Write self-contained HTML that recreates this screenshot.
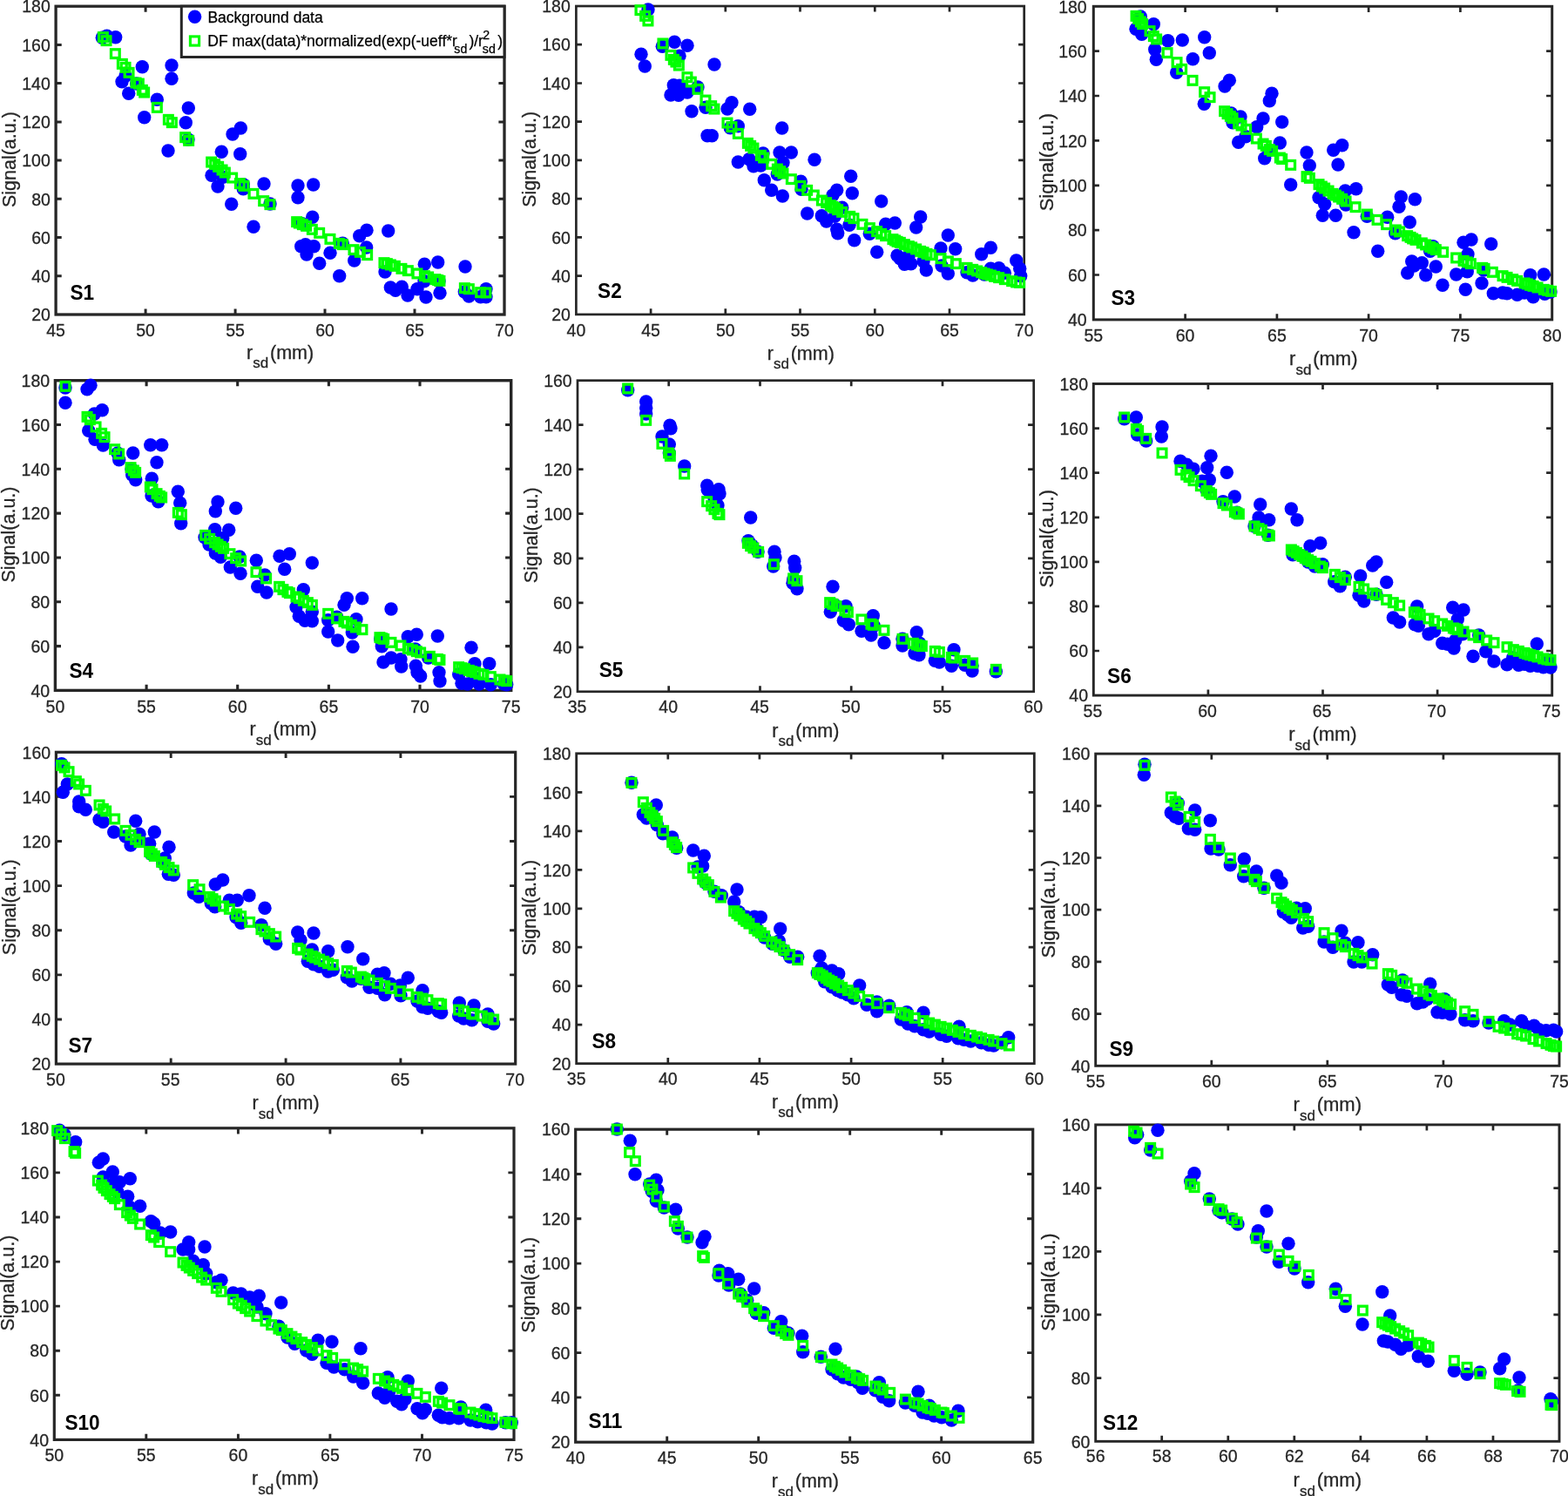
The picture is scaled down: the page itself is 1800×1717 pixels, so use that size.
<!DOCTYPE html>
<html lang="en">
<head>
<meta charset="utf-8">
<title>Signal vs source-detector distance, subjects S1-S12</title>
<style>
html,body{margin:0;padding:0;background:#fff;}
body{width:1800px;height:1717px;overflow:hidden;}
svg{display:block;font-family:"Liberation Sans",Arial,Helvetica,sans-serif;}
.b{fill:#0000ff;}
.g{fill:none;stroke:#00ff00;stroke-width:3.3;}
.ax{fill:none;stroke:#262626;}
.tk{fill:none;stroke:#262626;}
.tl{font-size:19.5px;fill:#262626;stroke:#262626;stroke-width:0.3px;}
.lb{font-size:21.5px;fill:#262626;stroke:#262626;stroke-width:0.3px;}
.sub{font-size:17px;}
.sl{font-size:22.6px;font-weight:bold;fill:#000;}
.lg{font-size:17.5px;fill:#000;stroke:#000;stroke-width:0.25px;}
.lsub{font-size:14.2px;}
</style>
</head>
<body>
<svg xmlns="http://www.w3.org/2000/svg" width="1800" height="1717" viewBox="0 0 1800 1717">
<rect width="1800" height="1717" fill="#fff"/>
<g class="p" id="p1">
<rect class="ax" x="64.1" y="7.2" width="514.9" height="353.8" stroke-width="3.3"/>
<path class="tk" d="M167.1 361v-6.6M167.1 7.2v6.6M270.1 361v-6.6M270.1 7.2v6.6M373 361v-6.6M373 7.2v6.6M476 361v-6.6M476 7.2v6.6M64.1 316.8h6.6M579 316.8h-6.6M64.1 272.6h6.6M579 272.6h-6.6M64.1 228.3h6.6M579 228.3h-6.6M64.1 184.1h6.6M579 184.1h-6.6M64.1 139.9h6.6M579 139.9h-6.6M64.1 95.6h6.6M579 95.6h-6.6M64.1 51.4h6.6M579 51.4h-6.6" stroke-width="3"/>
<g class="b"><circle cx="117.3" cy="43.3" r="7.7"/><circle cx="122.7" cy="41.3" r="7.7"/><circle cx="132.7" cy="42.7" r="7.7"/><circle cx="140" cy="93.7" r="7.7"/><circle cx="144" cy="87.3" r="7.7"/><circle cx="147.7" cy="107.3" r="7.7"/><circle cx="163.3" cy="76.7" r="7.7"/><circle cx="156.7" cy="96" r="7.7"/><circle cx="165.7" cy="134.7" r="7.7"/><circle cx="180.3" cy="114.3" r="7.7"/><circle cx="197" cy="75" r="7.7"/><circle cx="197" cy="90.3" r="7.7"/><circle cx="193" cy="173" r="7.7"/><circle cx="213.3" cy="140.7" r="7.7"/><circle cx="216.3" cy="124" r="7.7"/><circle cx="216" cy="160" r="7.7"/><circle cx="243" cy="201.3" r="7.7"/><circle cx="250" cy="214" r="7.7"/><circle cx="254.3" cy="174.3" r="7.7"/><circle cx="256" cy="203.3" r="7.7"/><circle cx="267" cy="154" r="7.7"/><circle cx="276.3" cy="147" r="7.7"/><circle cx="275.7" cy="176.7" r="7.7"/><circle cx="265.7" cy="234.3" r="7.7"/><circle cx="279.3" cy="216.7" r="7.7"/><circle cx="279.3" cy="211.7" r="7.7"/><circle cx="291" cy="260.3" r="7.7"/><circle cx="303" cy="211" r="7.7"/><circle cx="310" cy="234" r="7.7"/><circle cx="342" cy="213" r="7.7"/><circle cx="342" cy="226.7" r="7.7"/><circle cx="359.7" cy="212" r="7.7"/><circle cx="358.7" cy="249.3" r="7.7"/><circle cx="346.7" cy="256.7" r="7.7"/><circle cx="345.7" cy="282.7" r="7.7"/><circle cx="350.7" cy="280.7" r="7.7"/><circle cx="360.3" cy="282.7" r="7.7"/><circle cx="352" cy="292" r="7.7"/><circle cx="366.7" cy="302.3" r="7.7"/><circle cx="379" cy="290.3" r="7.7"/><circle cx="389.7" cy="316.7" r="7.7"/><circle cx="393.3" cy="279.3" r="7.7"/><circle cx="406.7" cy="299" r="7.7"/><circle cx="412.7" cy="270.7" r="7.7"/><circle cx="421" cy="264.3" r="7.7"/><circle cx="420.7" cy="284" r="7.7"/><circle cx="445.7" cy="265" r="7.7"/><circle cx="442" cy="312" r="7.7"/><circle cx="448.3" cy="330" r="7.7"/><circle cx="454" cy="333.3" r="7.7"/><circle cx="461.3" cy="329.3" r="7.7"/><circle cx="468" cy="339" r="7.7"/><circle cx="479" cy="331.7" r="7.7"/><circle cx="487.3" cy="303.3" r="7.7"/><circle cx="487" cy="322.7" r="7.7"/><circle cx="489" cy="341" r="7.7"/><circle cx="502.7" cy="301" r="7.7"/><circle cx="505" cy="336.3" r="7.7"/><circle cx="504" cy="322.7" r="7.7"/><circle cx="534" cy="306" r="7.7"/><circle cx="533.3" cy="335" r="7.7"/><circle cx="538.3" cy="340" r="7.7"/><circle cx="551.7" cy="340.7" r="7.7"/><circle cx="558" cy="331.7" r="7.7"/><circle cx="558" cy="340.7" r="7.7"/></g>
<g class="g"><rect x="113.5" y="37.8" width="9.7" height="9.7"/><rect x="117.2" y="41.8" width="9.7" height="9.7"/><rect x="127.5" y="56.8" width="9.7" height="9.7"/><rect x="135.5" y="68.5" width="9.7" height="9.7"/><rect x="139.2" y="72.5" width="9.7" height="9.7"/><rect x="143.2" y="78.5" width="9.7" height="9.7"/><rect x="151.2" y="90.2" width="9.7" height="9.7"/><rect x="154.5" y="91.2" width="9.7" height="9.7"/><rect x="158.5" y="98.5" width="9.7" height="9.7"/><rect x="160.8" y="101.2" width="9.7" height="9.7"/><rect x="175.5" y="118.5" width="9.7" height="9.7"/><rect x="188.5" y="132.5" width="9.7" height="9.7"/><rect x="192.5" y="135.8" width="9.7" height="9.7"/><rect x="207.8" y="152.8" width="9.7" height="9.7"/><rect x="211.8" y="156.5" width="9.7" height="9.7"/><rect x="237.8" y="181.2" width="9.7" height="9.7"/><rect x="241.8" y="183.8" width="9.7" height="9.7"/><rect x="245.8" y="186.5" width="9.7" height="9.7"/><rect x="250.2" y="190.2" width="9.7" height="9.7"/><rect x="253.5" y="193.2" width="9.7" height="9.7"/><rect x="261.8" y="199.2" width="9.7" height="9.7"/><rect x="270.5" y="205.8" width="9.7" height="9.7"/><rect x="275.1" y="208.5" width="9.7" height="9.7"/><rect x="286.1" y="217.5" width="9.7" height="9.7"/><rect x="297.8" y="225.8" width="9.7" height="9.7"/><rect x="305.1" y="229.8" width="9.7" height="9.7"/><rect x="335.8" y="249.8" width="9.7" height="9.7"/><rect x="338.5" y="251.2" width="9.7" height="9.7"/><rect x="342.5" y="252.8" width="9.7" height="9.7"/><rect x="346.8" y="254.5" width="9.7" height="9.7"/><rect x="353.5" y="258.5" width="9.7" height="9.7"/><rect x="361.8" y="262.5" width="9.7" height="9.7"/><rect x="374.1" y="269.5" width="9.7" height="9.7"/><rect x="384.5" y="274.5" width="9.7" height="9.7"/><rect x="388.5" y="275.8" width="9.7" height="9.7"/><rect x="401.1" y="281.8" width="9.7" height="9.7"/><rect x="408.5" y="284.5" width="9.7" height="9.7"/><rect x="416.8" y="287.8" width="9.7" height="9.7"/><rect x="436.1" y="296.8" width="9.7" height="9.7"/><rect x="439.5" y="297.8" width="9.7" height="9.7"/><rect x="443.5" y="299.1" width="9.7" height="9.7"/><rect x="448.5" y="300.5" width="9.7" height="9.7"/><rect x="456.1" y="303.5" width="9.7" height="9.7"/><rect x="463.5" y="305.8" width="9.7" height="9.7"/><rect x="474.1" y="309.1" width="9.7" height="9.7"/><rect x="482.5" y="311.8" width="9.7" height="9.7"/><rect x="486.8" y="313.1" width="9.7" height="9.7"/><rect x="495.1" y="315.8" width="9.7" height="9.7"/><rect x="500.1" y="317.5" width="9.7" height="9.7"/><rect x="528.5" y="325.8" width="9.7" height="9.7"/><rect x="533.5" y="326.8" width="9.7" height="9.7"/><rect x="546.8" y="330.8" width="9.7" height="9.7"/><rect x="553.1" y="331.1" width="9.7" height="9.7"/><rect x="497.8" y="316.7" width="9.7" height="9.7"/></g>
<g class="tl"><text transform="translate(64.1 386.4) scale(1 1.04)" text-anchor="middle">45</text><text transform="translate(167.1 386.4) scale(1 1.04)" text-anchor="middle">50</text><text transform="translate(270.1 386.4) scale(1 1.04)" text-anchor="middle">55</text><text transform="translate(373 386.4) scale(1 1.04)" text-anchor="middle">60</text><text transform="translate(476 386.4) scale(1 1.04)" text-anchor="middle">65</text><text transform="translate(579 386.4) scale(1 1.04)" text-anchor="middle">70</text><text transform="translate(57.8 368.2) scale(1 1.04)" text-anchor="end">20</text><text transform="translate(57.8 324) scale(1 1.04)" text-anchor="end">40</text><text transform="translate(57.8 279.8) scale(1 1.04)" text-anchor="end">60</text><text transform="translate(57.8 235.5) scale(1 1.04)" text-anchor="end">80</text><text transform="translate(57.8 191.3) scale(1 1.04)" text-anchor="end">100</text><text transform="translate(57.8 147.1) scale(1 1.04)" text-anchor="end">120</text><text transform="translate(57.8 102.8) scale(1 1.04)" text-anchor="end">140</text><text transform="translate(57.8 58.6) scale(1 1.04)" text-anchor="end">160</text><text transform="translate(57.8 14.4) scale(1 1.04)" text-anchor="end">180</text></g>
<text class="lb" x="321.6" y="411.5" text-anchor="middle">r<tspan class="sub" dy="10.6">sd</tspan><tspan dx="1.8" dy="-10.6">(mm)</tspan></text>
<text class="lb" transform="translate(17.7 183.1) rotate(-90)" text-anchor="middle">Signal(a.u.)</text>
<text class="sl" transform="translate(80.4 344) scale(1 1.045)">S1</text>
</g>
<g class="p" id="p2">
<rect class="ax" x="661.4" y="7" width="514.3" height="353.9" stroke-width="2.7"/>
<path class="tk" d="M747.1 360.9v-6.6M747.1 7v6.6M832.8 360.9v-6.6M832.8 7v6.6M918.5 360.9v-6.6M918.5 7v6.6M1004.3 360.9v-6.6M1004.3 7v6.6M1090 360.9v-6.6M1090 7v6.6M661.4 316.7h6.6M1175.7 316.7h-6.6M661.4 272.4h6.6M1175.7 272.4h-6.6M661.4 228.2h6.6M1175.7 228.2h-6.6M661.4 183.9h6.6M1175.7 183.9h-6.6M661.4 139.7h6.6M1175.7 139.7h-6.6M661.4 95.5h6.6M1175.7 95.5h-6.6M661.4 51.2h6.6M1175.7 51.2h-6.6" stroke-width="2.7"/>
<g class="b"><circle cx="744" cy="11" r="7.7"/><circle cx="736" cy="62.3" r="7.7"/><circle cx="740.3" cy="76" r="7.7"/><circle cx="760.3" cy="53.3" r="7.7"/><circle cx="774.3" cy="48.3" r="7.7"/><circle cx="789" cy="52.3" r="7.7"/><circle cx="780" cy="64.3" r="7.7"/><circle cx="773.3" cy="97.7" r="7.7"/><circle cx="780" cy="98.3" r="7.7"/><circle cx="770" cy="109" r="7.7"/><circle cx="779" cy="109.3" r="7.7"/><circle cx="789" cy="106" r="7.7"/><circle cx="794" cy="127.7" r="7.7"/><circle cx="801" cy="100" r="7.7"/><circle cx="820" cy="74" r="7.7"/><circle cx="810" cy="123.3" r="7.7"/><circle cx="812" cy="155.7" r="7.7"/><circle cx="817.3" cy="155.7" r="7.7"/><circle cx="835" cy="125" r="7.7"/><circle cx="840" cy="117.7" r="7.7"/><circle cx="860.7" cy="125.3" r="7.7"/><circle cx="847.3" cy="144.7" r="7.7"/><circle cx="838.3" cy="146.7" r="7.7"/><circle cx="847.3" cy="186" r="7.7"/><circle cx="860" cy="182.7" r="7.7"/><circle cx="865" cy="190.7" r="7.7"/><circle cx="873.3" cy="190" r="7.7"/><circle cx="876" cy="176" r="7.7"/><circle cx="877.3" cy="206.7" r="7.7"/><circle cx="885.7" cy="218.3" r="7.7"/><circle cx="895" cy="175" r="7.7"/><circle cx="897.7" cy="147" r="7.7"/><circle cx="908.3" cy="175" r="7.7"/><circle cx="899" cy="186.7" r="7.7"/><circle cx="892.3" cy="200" r="7.7"/><circle cx="898.3" cy="225" r="7.7"/><circle cx="919.3" cy="208.3" r="7.7"/><circle cx="920" cy="217.3" r="7.7"/><circle cx="935" cy="183.3" r="7.7"/><circle cx="926.7" cy="245" r="7.7"/><circle cx="943.3" cy="247.7" r="7.7"/><circle cx="948.7" cy="254" r="7.7"/><circle cx="956" cy="224" r="7.7"/><circle cx="960.7" cy="218.3" r="7.7"/><circle cx="958.3" cy="248.3" r="7.7"/><circle cx="966.7" cy="238.3" r="7.7"/><circle cx="960.7" cy="263.3" r="7.7"/><circle cx="961.7" cy="267.7" r="7.7"/><circle cx="976.7" cy="202.3" r="7.7"/><circle cx="978.3" cy="221.7" r="7.7"/><circle cx="975" cy="258.3" r="7.7"/><circle cx="980.7" cy="275.7" r="7.7"/><circle cx="998.3" cy="268.3" r="7.7"/><circle cx="1006.7" cy="289.3" r="7.7"/><circle cx="1011.7" cy="231" r="7.7"/><circle cx="1016.7" cy="257.3" r="7.7"/><circle cx="1027.3" cy="256" r="7.7"/><circle cx="1030" cy="293.3" r="7.7"/><circle cx="1033.3" cy="296.7" r="7.7"/><circle cx="1038.3" cy="303.3" r="7.7"/><circle cx="1045.7" cy="302.7" r="7.7"/><circle cx="1043.3" cy="293.3" r="7.7"/><circle cx="1051.7" cy="261" r="7.7"/><circle cx="1056.7" cy="249" r="7.7"/><circle cx="1060" cy="300" r="7.7"/><circle cx="1063.3" cy="310" r="7.7"/><circle cx="1080" cy="285" r="7.7"/><circle cx="1081" cy="305" r="7.7"/><circle cx="1088.3" cy="270" r="7.7"/><circle cx="1088.3" cy="314" r="7.7"/><circle cx="1096.7" cy="285.7" r="7.7"/><circle cx="1110" cy="312.7" r="7.7"/><circle cx="1116.7" cy="316" r="7.7"/><circle cx="1126.7" cy="291.7" r="7.7"/><circle cx="1137.3" cy="284.3" r="7.7"/><circle cx="1130" cy="315" r="7.7"/><circle cx="1137.3" cy="308.3" r="7.7"/><circle cx="1146.7" cy="307.7" r="7.7"/><circle cx="1153.3" cy="313.3" r="7.7"/><circle cx="1166.7" cy="299" r="7.7"/><circle cx="1170.7" cy="308.3" r="7.7"/><circle cx="1171.7" cy="316.7" r="7.7"/></g>
<g class="g"><rect x="730.1" y="6.8" width="9.7" height="9.7"/><rect x="735.8" y="13.5" width="9.7" height="9.7"/><rect x="739.1" y="19.1" width="9.7" height="9.7"/><rect x="756.1" y="45.1" width="9.7" height="9.7"/><rect x="765.1" y="58.5" width="9.7" height="9.7"/><rect x="768.5" y="63.5" width="9.7" height="9.7"/><rect x="771.1" y="66.2" width="9.7" height="9.7"/><rect x="774.5" y="70.2" width="9.7" height="9.7"/><rect x="784.1" y="83.8" width="9.7" height="9.7"/><rect x="788.5" y="89.2" width="9.7" height="9.7"/><rect x="796.1" y="97.5" width="9.7" height="9.7"/><rect x="805.1" y="110.2" width="9.7" height="9.7"/><rect x="811.8" y="116.8" width="9.7" height="9.7"/><rect x="815.1" y="120.2" width="9.7" height="9.7"/><rect x="830.1" y="136.2" width="9.7" height="9.7"/><rect x="835.1" y="140.8" width="9.7" height="9.7"/><rect x="842.5" y="148.5" width="9.7" height="9.7"/><rect x="853.5" y="159.5" width="9.7" height="9.7"/><rect x="856.8" y="162.5" width="9.7" height="9.7"/><rect x="860.1" y="165.2" width="9.7" height="9.7"/><rect x="868.5" y="173.5" width="9.7" height="9.7"/><rect x="871.8" y="176.2" width="9.7" height="9.7"/><rect x="880.8" y="183.5" width="9.7" height="9.7"/><rect x="887.5" y="189.2" width="9.7" height="9.7"/><rect x="890.8" y="191.8" width="9.7" height="9.7"/><rect x="894.1" y="194.2" width="9.7" height="9.7"/><rect x="903.5" y="200.8" width="9.7" height="9.7"/><rect x="914.1" y="208.5" width="9.7" height="9.7"/><rect x="921.8" y="213.5" width="9.7" height="9.7"/><rect x="929.5" y="219.2" width="9.7" height="9.7"/><rect x="938.5" y="225.2" width="9.7" height="9.7"/><rect x="943.8" y="227.8" width="9.7" height="9.7"/><rect x="948.5" y="230.8" width="9.7" height="9.7"/><rect x="953.5" y="233.8" width="9.7" height="9.7"/><rect x="956.8" y="235.8" width="9.7" height="9.7"/><rect x="961.8" y="238.5" width="9.7" height="9.7"/><rect x="970.8" y="243.5" width="9.7" height="9.7"/><rect x="975.1" y="245.8" width="9.7" height="9.7"/><rect x="985.1" y="252.5" width="9.7" height="9.7"/><rect x="993.5" y="256.8" width="9.7" height="9.7"/><rect x="1001.8" y="260.8" width="9.7" height="9.7"/><rect x="1006.8" y="263.5" width="9.7" height="9.7"/><rect x="1011.8" y="265.8" width="9.7" height="9.7"/><rect x="1020.1" y="269.8" width="9.7" height="9.7"/><rect x="1022.8" y="271.1" width="9.7" height="9.7"/><rect x="1025.2" y="272.5" width="9.7" height="9.7"/><rect x="1028.5" y="273.5" width="9.7" height="9.7"/><rect x="1033.5" y="275.8" width="9.7" height="9.7"/><rect x="1038.5" y="277.8" width="9.7" height="9.7"/><rect x="1041.8" y="279.1" width="9.7" height="9.7"/><rect x="1046.8" y="281.1" width="9.7" height="9.7"/><rect x="1051.8" y="283.5" width="9.7" height="9.7"/><rect x="1055.2" y="284.8" width="9.7" height="9.7"/><rect x="1059.2" y="286.5" width="9.7" height="9.7"/><rect x="1063.5" y="287.8" width="9.7" height="9.7"/><rect x="1075.2" y="291.8" width="9.7" height="9.7"/><rect x="1083.5" y="295.1" width="9.7" height="9.7"/><rect x="1092.5" y="297.8" width="9.7" height="9.7"/><rect x="1105.2" y="302.5" width="9.7" height="9.7"/><rect x="1111.8" y="304.5" width="9.7" height="9.7"/><rect x="1116.8" y="306.1" width="9.7" height="9.7"/><rect x="1121.8" y="307.8" width="9.7" height="9.7"/><rect x="1125.2" y="309.1" width="9.7" height="9.7"/><rect x="1128.5" y="310.1" width="9.7" height="9.7"/><rect x="1132.5" y="311.1" width="9.7" height="9.7"/><rect x="1136.8" y="312.5" width="9.7" height="9.7"/><rect x="1141.8" y="313.8" width="9.7" height="9.7"/><rect x="1148.5" y="315.8" width="9.7" height="9.7"/><rect x="1156.8" y="317.8" width="9.7" height="9.7"/><rect x="1161.8" y="319.1" width="9.7" height="9.7"/><rect x="1165.8" y="319.5" width="9.7" height="9.7"/><rect x="951.1" y="232.4" width="9.7" height="9.7"/></g>
<g class="tl"><text transform="translate(661.4 385.5) scale(1 1.04)" text-anchor="middle">40</text><text transform="translate(747.1 385.5) scale(1 1.04)" text-anchor="middle">45</text><text transform="translate(832.8 385.5) scale(1 1.04)" text-anchor="middle">50</text><text transform="translate(918.5 385.5) scale(1 1.04)" text-anchor="middle">55</text><text transform="translate(1004.3 385.5) scale(1 1.04)" text-anchor="middle">60</text><text transform="translate(1090 385.5) scale(1 1.04)" text-anchor="middle">65</text><text transform="translate(1175.7 385.5) scale(1 1.04)" text-anchor="middle">70</text><text transform="translate(654.8 368.1) scale(1 1.04)" text-anchor="end">20</text><text transform="translate(654.8 323.9) scale(1 1.04)" text-anchor="end">40</text><text transform="translate(654.8 279.6) scale(1 1.04)" text-anchor="end">60</text><text transform="translate(654.8 235.4) scale(1 1.04)" text-anchor="end">80</text><text transform="translate(654.8 191.1) scale(1 1.04)" text-anchor="end">100</text><text transform="translate(654.8 146.9) scale(1 1.04)" text-anchor="end">120</text><text transform="translate(654.8 102.7) scale(1 1.04)" text-anchor="end">140</text><text transform="translate(654.8 58.4) scale(1 1.04)" text-anchor="end">160</text><text transform="translate(654.8 14.2) scale(1 1.04)" text-anchor="end">180</text></g>
<text class="lb" x="919.3" y="412.7" text-anchor="middle">r<tspan class="sub" dy="10.6">sd</tspan><tspan dx="1.8" dy="-10.6">(mm)</tspan></text>
<text class="lb" transform="translate(615.3 182.9) rotate(-90)" text-anchor="middle">Signal(a.u.)</text>
<text class="sl" transform="translate(686.1 342.4) scale(1 1.045)">S2</text>
</g>
<g class="p" id="p3">
<rect class="ax" x="1255.3" y="7.3" width="526.4" height="359.6" stroke-width="3.0"/>
<path class="tk" d="M1360.6 366.9v-6.6M1360.6 7.3v6.6M1465.9 366.9v-6.6M1465.9 7.3v6.6M1571.1 366.9v-6.6M1571.1 7.3v6.6M1676.4 366.9v-6.6M1676.4 7.3v6.6M1255.3 315.5h6.6M1781.7 315.5h-6.6M1255.3 264.2h6.6M1781.7 264.2h-6.6M1255.3 212.8h6.6M1781.7 212.8h-6.6M1255.3 161.4h6.6M1781.7 161.4h-6.6M1255.3 110h6.6M1781.7 110h-6.6M1255.3 58.7h6.6M1781.7 58.7h-6.6" stroke-width="2.7"/>
<g class="b"><circle cx="1309.3" cy="19" r="7.7"/><circle cx="1304" cy="33.3" r="7.7"/><circle cx="1310.7" cy="39.3" r="7.7"/><circle cx="1324.3" cy="27.7" r="7.7"/><circle cx="1325.7" cy="56.7" r="7.7"/><circle cx="1327.3" cy="68.3" r="7.7"/><circle cx="1340.7" cy="46.7" r="7.7"/><circle cx="1357.3" cy="46" r="7.7"/><circle cx="1350.7" cy="83.3" r="7.7"/><circle cx="1369.3" cy="67.7" r="7.7"/><circle cx="1382.7" cy="42.7" r="7.7"/><circle cx="1388.3" cy="60.7" r="7.7"/><circle cx="1406" cy="99" r="7.7"/><circle cx="1411.3" cy="92.3" r="7.7"/><circle cx="1382.3" cy="119.3" r="7.7"/><circle cx="1413.3" cy="130" r="7.7"/><circle cx="1415" cy="140.7" r="7.7"/><circle cx="1424" cy="134" r="7.7"/><circle cx="1421.7" cy="163.3" r="7.7"/><circle cx="1430" cy="156.7" r="7.7"/><circle cx="1442.7" cy="145.7" r="7.7"/><circle cx="1450" cy="136" r="7.7"/><circle cx="1451.7" cy="181.7" r="7.7"/><circle cx="1457.3" cy="115.7" r="7.7"/><circle cx="1460" cy="107.3" r="7.7"/><circle cx="1456.7" cy="172.7" r="7.7"/><circle cx="1469.3" cy="164" r="7.7"/><circle cx="1471.7" cy="140" r="7.7"/><circle cx="1481.7" cy="212" r="7.7"/><circle cx="1500" cy="175" r="7.7"/><circle cx="1503.3" cy="190" r="7.7"/><circle cx="1514" cy="226.7" r="7.7"/><circle cx="1518.3" cy="247.3" r="7.7"/><circle cx="1520.7" cy="234.3" r="7.7"/><circle cx="1530.7" cy="172.3" r="7.7"/><circle cx="1540.7" cy="166.7" r="7.7"/><circle cx="1536" cy="189" r="7.7"/><circle cx="1533.3" cy="247.3" r="7.7"/><circle cx="1544.3" cy="219" r="7.7"/><circle cx="1545" cy="235" r="7.7"/><circle cx="1556.7" cy="216.7" r="7.7"/><circle cx="1554" cy="266.7" r="7.7"/><circle cx="1569.3" cy="248.3" r="7.7"/><circle cx="1581.7" cy="288.3" r="7.7"/><circle cx="1592.7" cy="249.3" r="7.7"/><circle cx="1601.7" cy="267.7" r="7.7"/><circle cx="1606" cy="237.3" r="7.7"/><circle cx="1608.3" cy="226" r="7.7"/><circle cx="1618.3" cy="255" r="7.7"/><circle cx="1624.3" cy="228.7" r="7.7"/><circle cx="1615.7" cy="313.3" r="7.7"/><circle cx="1620.7" cy="300" r="7.7"/><circle cx="1623.3" cy="305" r="7.7"/><circle cx="1632.3" cy="301.7" r="7.7"/><circle cx="1636.7" cy="315.7" r="7.7"/><circle cx="1641.7" cy="288.3" r="7.7"/><circle cx="1645" cy="282.7" r="7.7"/><circle cx="1648.3" cy="306" r="7.7"/><circle cx="1656" cy="327.3" r="7.7"/><circle cx="1671.7" cy="315" r="7.7"/><circle cx="1680" cy="278.3" r="7.7"/><circle cx="1689" cy="275" r="7.7"/><circle cx="1685" cy="291.7" r="7.7"/><circle cx="1684.3" cy="311.7" r="7.7"/><circle cx="1682.3" cy="332.3" r="7.7"/><circle cx="1701" cy="325" r="7.7"/><circle cx="1703.3" cy="310" r="7.7"/><circle cx="1711.7" cy="280" r="7.7"/><circle cx="1714.3" cy="336.7" r="7.7"/><circle cx="1725" cy="336" r="7.7"/><circle cx="1730" cy="336.7" r="7.7"/><circle cx="1741.7" cy="338.3" r="7.7"/><circle cx="1750" cy="336" r="7.7"/><circle cx="1756.7" cy="315.7" r="7.7"/><circle cx="1760" cy="340.7" r="7.7"/><circle cx="1772.3" cy="315" r="7.7"/><circle cx="1773.3" cy="337.3" r="7.7"/><circle cx="1780" cy="335" r="7.7"/></g>
<g class="g"><rect x="1299.2" y="13.5" width="9.7" height="9.7"/><rect x="1301.8" y="16.8" width="9.7" height="9.7"/><rect x="1304.5" y="20.1" width="9.7" height="9.7"/><rect x="1306.8" y="22.8" width="9.7" height="9.7"/><rect x="1315.2" y="30.8" width="9.7" height="9.7"/><rect x="1319.5" y="36.8" width="9.7" height="9.7"/><rect x="1322.8" y="40.1" width="9.7" height="9.7"/><rect x="1335.2" y="55.8" width="9.7" height="9.7"/><rect x="1346.2" y="66.8" width="9.7" height="9.7"/><rect x="1351.8" y="74.5" width="9.7" height="9.7"/><rect x="1364.2" y="87.5" width="9.7" height="9.7"/><rect x="1377.8" y="100.8" width="9.7" height="9.7"/><rect x="1384.2" y="106.8" width="9.7" height="9.7"/><rect x="1400.8" y="122.8" width="9.7" height="9.7"/><rect x="1404.2" y="125.8" width="9.7" height="9.7"/><rect x="1407.5" y="128.5" width="9.7" height="9.7"/><rect x="1410.2" y="130.8" width="9.7" height="9.7"/><rect x="1416.8" y="136.8" width="9.7" height="9.7"/><rect x="1420.2" y="139.2" width="9.7" height="9.7"/><rect x="1425.8" y="143.5" width="9.7" height="9.7"/><rect x="1437.5" y="154.2" width="9.7" height="9.7"/><rect x="1445.2" y="160.2" width="9.7" height="9.7"/><rect x="1448.5" y="162.5" width="9.7" height="9.7"/><rect x="1452.5" y="166.8" width="9.7" height="9.7"/><rect x="1455.8" y="168.5" width="9.7" height="9.7"/><rect x="1464.5" y="176.2" width="9.7" height="9.7"/><rect x="1476.8" y="184.5" width="9.7" height="9.7"/><rect x="1495.2" y="197.8" width="9.7" height="9.7"/><rect x="1498.5" y="199.5" width="9.7" height="9.7"/><rect x="1509.2" y="206.8" width="9.7" height="9.7"/><rect x="1512.5" y="209.2" width="9.7" height="9.7"/><rect x="1515.8" y="211.2" width="9.7" height="9.7"/><rect x="1520.2" y="214.2" width="9.7" height="9.7"/><rect x="1525.2" y="217.5" width="9.7" height="9.7"/><rect x="1528.5" y="219.2" width="9.7" height="9.7"/><rect x="1531.8" y="221.2" width="9.7" height="9.7"/><rect x="1535.8" y="223.5" width="9.7" height="9.7"/><rect x="1540.2" y="226.2" width="9.7" height="9.7"/><rect x="1551.2" y="232.8" width="9.7" height="9.7"/><rect x="1564.5" y="241.2" width="9.7" height="9.7"/><rect x="1576.2" y="247.5" width="9.7" height="9.7"/><rect x="1586.8" y="252.8" width="9.7" height="9.7"/><rect x="1597.5" y="259.1" width="9.7" height="9.7"/><rect x="1601.8" y="261.1" width="9.7" height="9.7"/><rect x="1610.8" y="265.8" width="9.7" height="9.7"/><rect x="1614.2" y="267.5" width="9.7" height="9.7"/><rect x="1616.8" y="269.1" width="9.7" height="9.7"/><rect x="1620.2" y="270.5" width="9.7" height="9.7"/><rect x="1627.5" y="274.1" width="9.7" height="9.7"/><rect x="1631.8" y="276.1" width="9.7" height="9.7"/><rect x="1636.8" y="278.5" width="9.7" height="9.7"/><rect x="1640.2" y="280.1" width="9.7" height="9.7"/><rect x="1643.5" y="281.8" width="9.7" height="9.7"/><rect x="1651.8" y="284.5" width="9.7" height="9.7"/><rect x="1666.8" y="291.1" width="9.7" height="9.7"/><rect x="1675.2" y="294.5" width="9.7" height="9.7"/><rect x="1679.5" y="296.1" width="9.7" height="9.7"/><rect x="1683.5" y="297.8" width="9.7" height="9.7"/><rect x="1696.8" y="302.5" width="9.7" height="9.7"/><rect x="1699.2" y="303.5" width="9.7" height="9.7"/><rect x="1708.5" y="307.5" width="9.7" height="9.7"/><rect x="1720.2" y="311.8" width="9.7" height="9.7"/><rect x="1725.2" y="313.5" width="9.7" height="9.7"/><rect x="1731.8" y="315.8" width="9.7" height="9.7"/><rect x="1736.8" y="317.5" width="9.7" height="9.7"/><rect x="1745.2" y="320.1" width="9.7" height="9.7"/><rect x="1748.5" y="321.1" width="9.7" height="9.7"/><rect x="1751.8" y="322.5" width="9.7" height="9.7"/><rect x="1755.2" y="323.5" width="9.7" height="9.7"/><rect x="1760.2" y="325.1" width="9.7" height="9.7"/><rect x="1767.5" y="327.5" width="9.7" height="9.7"/><rect x="1771.8" y="328.5" width="9.7" height="9.7"/><rect x="1775.8" y="329.5" width="9.7" height="9.7"/><rect x="1466.8" y="177.7" width="9.7" height="9.7"/></g>
<g class="tl"><text transform="translate(1255.3 392.3) scale(1 1.04)" text-anchor="middle">55</text><text transform="translate(1360.6 392.3) scale(1 1.04)" text-anchor="middle">60</text><text transform="translate(1465.9 392.3) scale(1 1.04)" text-anchor="middle">65</text><text transform="translate(1571.1 392.3) scale(1 1.04)" text-anchor="middle">70</text><text transform="translate(1676.4 392.3) scale(1 1.04)" text-anchor="middle">75</text><text transform="translate(1781.7 392.3) scale(1 1.04)" text-anchor="middle">80</text><text transform="translate(1247.7 374.1) scale(1 1.04)" text-anchor="end">40</text><text transform="translate(1247.7 322.7) scale(1 1.04)" text-anchor="end">60</text><text transform="translate(1247.7 271.4) scale(1 1.04)" text-anchor="end">80</text><text transform="translate(1247.7 220) scale(1 1.04)" text-anchor="end">100</text><text transform="translate(1247.7 168.6) scale(1 1.04)" text-anchor="end">120</text><text transform="translate(1247.7 117.2) scale(1 1.04)" text-anchor="end">140</text><text transform="translate(1247.7 65.9) scale(1 1.04)" text-anchor="end">160</text><text transform="translate(1247.7 14.5) scale(1 1.04)" text-anchor="end">180</text></g>
<text class="lb" style="font-size:22.0px" x="1519.3" y="419.3" text-anchor="middle">r<tspan class="sub" dy="10.6">sd</tspan><tspan dx="1.8" dy="-10.6">(mm)</tspan></text>
<text class="lb" style="font-size:22.0px" transform="translate(1208.9 186.1) rotate(-90)" text-anchor="middle">Signal(a.u.)</text>
<text class="sl" transform="translate(1275.4 349.7) scale(1 1.045)">S3</text>
</g>
<g class="p" id="p4">
<rect class="ax" x="63.4" y="436.7" width="523.3" height="355.7" stroke-width="3.4"/>
<path class="tk" d="M168.1 792.4v-6.6M168.1 436.7v6.6M272.7 792.4v-6.6M272.7 436.7v6.6M377.4 792.4v-6.6M377.4 436.7v6.6M482 792.4v-6.6M482 436.7v6.6M63.4 741.6h6.6M586.7 741.6h-6.6M63.4 690.8h6.6M586.7 690.8h-6.6M63.4 640h6.6M586.7 640h-6.6M63.4 589.1h6.6M586.7 589.1h-6.6M63.4 538.3h6.6M586.7 538.3h-6.6M63.4 487.5h6.6M586.7 487.5h-6.6" stroke-width="3.1"/>
<g class="b"><circle cx="75" cy="445" r="7.7"/><circle cx="75" cy="462.3" r="7.7"/><circle cx="100" cy="446.7" r="7.7"/><circle cx="104" cy="442.3" r="7.7"/><circle cx="101.7" cy="494.3" r="7.7"/><circle cx="108.3" cy="475" r="7.7"/><circle cx="117.3" cy="470.7" r="7.7"/><circle cx="109" cy="504.3" r="7.7"/><circle cx="118.3" cy="511" r="7.7"/><circle cx="135" cy="520" r="7.7"/><circle cx="136.7" cy="527.7" r="7.7"/><circle cx="152.7" cy="520" r="7.7"/><circle cx="151" cy="538.3" r="7.7"/><circle cx="151.7" cy="545" r="7.7"/><circle cx="155.7" cy="550.7" r="7.7"/><circle cx="172.7" cy="510.7" r="7.7"/><circle cx="185.7" cy="510.7" r="7.7"/><circle cx="180" cy="530.7" r="7.7"/><circle cx="174.3" cy="549.3" r="7.7"/><circle cx="174" cy="569" r="7.7"/><circle cx="181.7" cy="575.7" r="7.7"/><circle cx="204.3" cy="564.3" r="7.7"/><circle cx="206.7" cy="577.3" r="7.7"/><circle cx="207.7" cy="600.7" r="7.7"/><circle cx="235" cy="616.7" r="7.7"/><circle cx="240" cy="625" r="7.7"/><circle cx="246.7" cy="607.7" r="7.7"/><circle cx="247.3" cy="586.7" r="7.7"/><circle cx="250" cy="576" r="7.7"/><circle cx="247.3" cy="635" r="7.7"/><circle cx="253.3" cy="639.3" r="7.7"/><circle cx="255.7" cy="617.7" r="7.7"/><circle cx="262.7" cy="608.3" r="7.7"/><circle cx="264.3" cy="651" r="7.7"/><circle cx="270.7" cy="583.3" r="7.7"/><circle cx="275" cy="639" r="7.7"/><circle cx="276" cy="658.3" r="7.7"/><circle cx="294.3" cy="643.3" r="7.7"/><circle cx="295.7" cy="673.3" r="7.7"/><circle cx="304" cy="660" r="7.7"/><circle cx="306" cy="680" r="7.7"/><circle cx="321" cy="638.3" r="7.7"/><circle cx="332.3" cy="635.7" r="7.7"/><circle cx="326.7" cy="653.3" r="7.7"/><circle cx="340" cy="696.7" r="7.7"/><circle cx="348.3" cy="676.7" r="7.7"/><circle cx="343.3" cy="707.3" r="7.7"/><circle cx="350" cy="712.3" r="7.7"/><circle cx="358.3" cy="712.7" r="7.7"/><circle cx="358.3" cy="702.3" r="7.7"/><circle cx="358.3" cy="646" r="7.7"/><circle cx="376.7" cy="711.7" r="7.7"/><circle cx="376.7" cy="725" r="7.7"/><circle cx="387.7" cy="735" r="7.7"/><circle cx="386.7" cy="708.3" r="7.7"/><circle cx="395" cy="694.3" r="7.7"/><circle cx="398.3" cy="686.7" r="7.7"/><circle cx="415.7" cy="686.7" r="7.7"/><circle cx="409" cy="710.7" r="7.7"/><circle cx="404.3" cy="726" r="7.7"/><circle cx="405" cy="742.3" r="7.7"/><circle cx="449" cy="699" r="7.7"/><circle cx="436.7" cy="733.3" r="7.7"/><circle cx="438.3" cy="741.7" r="7.7"/><circle cx="440" cy="760" r="7.7"/><circle cx="449" cy="755" r="7.7"/><circle cx="460" cy="756.7" r="7.7"/><circle cx="460.7" cy="765" r="7.7"/><circle cx="468.3" cy="730.7" r="7.7"/><circle cx="478.3" cy="728.3" r="7.7"/><circle cx="476.7" cy="745" r="7.7"/><circle cx="477.3" cy="764.3" r="7.7"/><circle cx="479" cy="771.7" r="7.7"/><circle cx="482.7" cy="776" r="7.7"/><circle cx="491.7" cy="755" r="7.7"/><circle cx="502.3" cy="730" r="7.7"/><circle cx="504" cy="771.7" r="7.7"/><circle cx="505" cy="781.7" r="7.7"/><circle cx="526.7" cy="774" r="7.7"/><circle cx="530" cy="784.3" r="7.7"/><circle cx="536.7" cy="785" r="7.7"/><circle cx="541" cy="743.3" r="7.7"/><circle cx="545" cy="761.7" r="7.7"/><circle cx="545" cy="778.3" r="7.7"/><circle cx="550" cy="785" r="7.7"/><circle cx="561.7" cy="761.7" r="7.7"/><circle cx="563.3" cy="785.7" r="7.7"/><circle cx="578.3" cy="785" r="7.7"/><circle cx="581.7" cy="785.7" r="7.7"/></g>
<g class="g"><rect x="70.2" y="438.5" width="9.7" height="9.7"/><rect x="95.2" y="473.5" width="9.7" height="9.7"/><rect x="98.5" y="476.8" width="9.7" height="9.7"/><rect x="105.2" y="485.1" width="9.7" height="9.7"/><rect x="111.8" y="492.5" width="9.7" height="9.7"/><rect x="115.2" y="496.8" width="9.7" height="9.7"/><rect x="126.8" y="510.8" width="9.7" height="9.7"/><rect x="131.8" y="516.1" width="9.7" height="9.7"/><rect x="145.2" y="531.8" width="9.7" height="9.7"/><rect x="148.5" y="535.1" width="9.7" height="9.7"/><rect x="150.8" y="537.5" width="9.7" height="9.7"/><rect x="167.5" y="554.1" width="9.7" height="9.7"/><rect x="170.2" y="556.8" width="9.7" height="9.7"/><rect x="175.2" y="561.8" width="9.7" height="9.7"/><rect x="178.5" y="564.5" width="9.7" height="9.7"/><rect x="180.8" y="566.1" width="9.7" height="9.7"/><rect x="199.5" y="583.5" width="9.7" height="9.7"/><rect x="203.5" y="585.8" width="9.7" height="9.7"/><rect x="230.8" y="609.5" width="9.7" height="9.7"/><rect x="235.8" y="613.5" width="9.7" height="9.7"/><rect x="241.8" y="617.8" width="9.7" height="9.7"/><rect x="245.2" y="620.1" width="9.7" height="9.7"/><rect x="248.5" y="622.5" width="9.7" height="9.7"/><rect x="251.8" y="624.5" width="9.7" height="9.7"/><rect x="259.1" y="630.8" width="9.7" height="9.7"/><rect x="265.8" y="635.8" width="9.7" height="9.7"/><rect x="271.8" y="639.1" width="9.7" height="9.7"/><rect x="289.1" y="651.8" width="9.7" height="9.7"/><rect x="300.8" y="659.1" width="9.7" height="9.7"/><rect x="315.8" y="668.5" width="9.7" height="9.7"/><rect x="320.1" y="671.8" width="9.7" height="9.7"/><rect x="325.1" y="674.5" width="9.7" height="9.7"/><rect x="335.1" y="680.1" width="9.7" height="9.7"/><rect x="338.5" y="681.8" width="9.7" height="9.7"/><rect x="343.5" y="684.5" width="9.7" height="9.7"/><rect x="348.5" y="686.8" width="9.7" height="9.7"/><rect x="353.5" y="689.5" width="9.7" height="9.7"/><rect x="371.8" y="699.5" width="9.7" height="9.7"/><rect x="381.8" y="705.1" width="9.7" height="9.7"/><rect x="390.1" y="708.5" width="9.7" height="9.7"/><rect x="398.5" y="712.5" width="9.7" height="9.7"/><rect x="403.5" y="715.1" width="9.7" height="9.7"/><rect x="411.1" y="717.8" width="9.7" height="9.7"/><rect x="431.1" y="726.8" width="9.7" height="9.7"/><rect x="435.8" y="728.5" width="9.7" height="9.7"/><rect x="444.1" y="732.5" width="9.7" height="9.7"/><rect x="455.1" y="736.1" width="9.7" height="9.7"/><rect x="463.5" y="739.5" width="9.7" height="9.7"/><rect x="468.5" y="741.1" width="9.7" height="9.7"/><rect x="473.5" y="742.8" width="9.7" height="9.7"/><rect x="477.8" y="744.1" width="9.7" height="9.7"/><rect x="488.5" y="748.5" width="9.7" height="9.7"/><rect x="500.1" y="752.5" width="9.7" height="9.7"/><rect x="521.8" y="760.8" width="9.7" height="9.7"/><rect x="528.5" y="762.8" width="9.7" height="9.7"/><rect x="533.5" y="764.5" width="9.7" height="9.7"/><rect x="536.8" y="765.8" width="9.7" height="9.7"/><rect x="540.8" y="766.8" width="9.7" height="9.7"/><rect x="545.1" y="768.5" width="9.7" height="9.7"/><rect x="550.1" y="769.5" width="9.7" height="9.7"/><rect x="558.5" y="771.8" width="9.7" height="9.7"/><rect x="569.1" y="775.1" width="9.7" height="9.7"/><rect x="573.5" y="776.1" width="9.7" height="9.7"/><rect x="576.8" y="776.8" width="9.7" height="9.7"/><rect x="393.5" y="710.1" width="9.7" height="9.7"/><rect x="525.1" y="761.8" width="9.7" height="9.7"/><rect x="497.5" y="751.6" width="9.7" height="9.7"/><rect x="327.5" y="675.8" width="9.7" height="9.7"/><rect x="433.5" y="727.6" width="9.7" height="9.7"/></g>
<g class="tl"><text transform="translate(63.4 817.8) scale(1 1.04)" text-anchor="middle">50</text><text transform="translate(168.1 817.8) scale(1 1.04)" text-anchor="middle">55</text><text transform="translate(272.7 817.8) scale(1 1.04)" text-anchor="middle">60</text><text transform="translate(377.4 817.8) scale(1 1.04)" text-anchor="middle">65</text><text transform="translate(482 817.8) scale(1 1.04)" text-anchor="middle">70</text><text transform="translate(586.7 817.8) scale(1 1.04)" text-anchor="middle">75</text><text transform="translate(57.1 799.6) scale(1 1.04)" text-anchor="end">40</text><text transform="translate(57.1 748.8) scale(1 1.04)" text-anchor="end">60</text><text transform="translate(57.1 698) scale(1 1.04)" text-anchor="end">80</text><text transform="translate(57.1 647.2) scale(1 1.04)" text-anchor="end">100</text><text transform="translate(57.1 596.3) scale(1 1.04)" text-anchor="end">120</text><text transform="translate(57.1 545.5) scale(1 1.04)" text-anchor="end">140</text><text transform="translate(57.1 494.7) scale(1 1.04)" text-anchor="end">160</text><text transform="translate(57.1 443.9) scale(1 1.04)" text-anchor="end">180</text></g>
<text class="lb" x="325.1" y="844.2" text-anchor="middle">r<tspan class="sub" dy="10.6">sd</tspan><tspan dx="1.8" dy="-10.6">(mm)</tspan></text>
<text class="lb" transform="translate(17 613.5) rotate(-90)" text-anchor="middle">Signal(a.u.)</text>
<text class="sl" transform="translate(79.4 778) scale(1 1.045)">S4</text>
</g>
<g class="p" id="p5">
<rect class="ax" x="663" y="436.7" width="523.7" height="357.1" stroke-width="2.7"/>
<path class="tk" d="M767.7 793.8v-6.6M767.7 436.7v6.6M872.5 793.8v-6.6M872.5 436.7v6.6M977.2 793.8v-6.6M977.2 436.7v6.6M1082 793.8v-6.6M1082 436.7v6.6M663 742.8h6.6M1186.7 742.8h-6.6M663 691.8h6.6M1186.7 691.8h-6.6M663 640.8h6.6M1186.7 640.8h-6.6M663 589.7h6.6M1186.7 589.7h-6.6M663 538.7h6.6M1186.7 538.7h-6.6M663 487.7h6.6M1186.7 487.7h-6.6" stroke-width="2.7"/>
<g class="b"><circle cx="720.7" cy="447.7" r="7.7"/><circle cx="741.7" cy="461" r="7.7"/><circle cx="741.7" cy="468.3" r="7.7"/><circle cx="741.7" cy="475" r="7.7"/><circle cx="769" cy="488.3" r="7.7"/><circle cx="770" cy="491.7" r="7.7"/><circle cx="760" cy="501" r="7.7"/><circle cx="768.3" cy="510" r="7.7"/><circle cx="768.3" cy="520" r="7.7"/><circle cx="785.7" cy="535" r="7.7"/><circle cx="811.7" cy="557.3" r="7.7"/><circle cx="812.3" cy="562.3" r="7.7"/><circle cx="825" cy="561.7" r="7.7"/><circle cx="826" cy="566.7" r="7.7"/><circle cx="820" cy="571.7" r="7.7"/><circle cx="824" cy="580" r="7.7"/><circle cx="861.7" cy="594" r="7.7"/><circle cx="859" cy="620.7" r="7.7"/><circle cx="863.3" cy="626" r="7.7"/><circle cx="870" cy="633.3" r="7.7"/><circle cx="889" cy="633.3" r="7.7"/><circle cx="890" cy="640" r="7.7"/><circle cx="887.7" cy="650" r="7.7"/><circle cx="911.7" cy="644.3" r="7.7"/><circle cx="912.7" cy="651.7" r="7.7"/><circle cx="910.7" cy="665" r="7.7"/><circle cx="910" cy="669.3" r="7.7"/><circle cx="915" cy="675.7" r="7.7"/><circle cx="956" cy="673.3" r="7.7"/><circle cx="953.3" cy="702.3" r="7.7"/><circle cx="958.3" cy="694.3" r="7.7"/><circle cx="971" cy="695.7" r="7.7"/><circle cx="968.3" cy="712.3" r="7.7"/><circle cx="974.3" cy="716.7" r="7.7"/><circle cx="989" cy="724.3" r="7.7"/><circle cx="1002.3" cy="706.7" r="7.7"/><circle cx="1003.3" cy="718.3" r="7.7"/><circle cx="1000" cy="729" r="7.7"/><circle cx="1015" cy="737.7" r="7.7"/><circle cx="1036" cy="733.3" r="7.7"/><circle cx="1036" cy="741" r="7.7"/><circle cx="1052.3" cy="725.7" r="7.7"/><circle cx="1055.7" cy="738.3" r="7.7"/><circle cx="1050" cy="750" r="7.7"/><circle cx="1055" cy="751.7" r="7.7"/><circle cx="1073.3" cy="758.3" r="7.7"/><circle cx="1078.3" cy="760" r="7.7"/><circle cx="1095" cy="745.7" r="7.7"/><circle cx="1092.3" cy="764.3" r="7.7"/><circle cx="1107.7" cy="763.3" r="7.7"/><circle cx="1116" cy="764.3" r="7.7"/><circle cx="1116" cy="770" r="7.7"/><circle cx="1143.3" cy="770.7" r="7.7"/></g>
<g class="g"><rect x="715.8" y="441.1" width="9.7" height="9.7"/><rect x="736.8" y="477.5" width="9.7" height="9.7"/><rect x="755.1" y="504.5" width="9.7" height="9.7"/><rect x="762.8" y="515.1" width="9.7" height="9.7"/><rect x="764.5" y="518.5" width="9.7" height="9.7"/><rect x="780.8" y="539.1" width="9.7" height="9.7"/><rect x="806.8" y="570.8" width="9.7" height="9.7"/><rect x="811.8" y="575.8" width="9.7" height="9.7"/><rect x="819.1" y="584.5" width="9.7" height="9.7"/><rect x="821.1" y="585.8" width="9.7" height="9.7"/><rect x="853.5" y="618.5" width="9.7" height="9.7"/><rect x="856.8" y="621.8" width="9.7" height="9.7"/><rect x="860.1" y="624.1" width="9.7" height="9.7"/><rect x="865.8" y="628.5" width="9.7" height="9.7"/><rect x="883.5" y="642.8" width="9.7" height="9.7"/><rect x="905.8" y="659.1" width="9.7" height="9.7"/><rect x="910.1" y="661.8" width="9.7" height="9.7"/><rect x="947.8" y="686.8" width="9.7" height="9.7"/><rect x="951.1" y="688.5" width="9.7" height="9.7"/><rect x="955.1" y="690.8" width="9.7" height="9.7"/><rect x="965.1" y="696.1" width="9.7" height="9.7"/><rect x="968.5" y="697.8" width="9.7" height="9.7"/><rect x="984.1" y="706.1" width="9.7" height="9.7"/><rect x="997.5" y="712.5" width="9.7" height="9.7"/><rect x="1010.1" y="718.5" width="9.7" height="9.7"/><rect x="1031.2" y="728.5" width="9.7" height="9.7"/><rect x="1043.5" y="733.5" width="9.7" height="9.7"/><rect x="1047.5" y="735.1" width="9.7" height="9.7"/><rect x="1050.8" y="736.1" width="9.7" height="9.7"/><rect x="1053.5" y="736.8" width="9.7" height="9.7"/><rect x="1068.5" y="742.5" width="9.7" height="9.7"/><rect x="1073.5" y="743.5" width="9.7" height="9.7"/><rect x="1087.5" y="749.5" width="9.7" height="9.7"/><rect x="1102.8" y="753.5" width="9.7" height="9.7"/><rect x="1111.8" y="756.1" width="9.7" height="9.7"/><rect x="1138.5" y="763.5" width="9.7" height="9.7"/><rect x="815.1" y="579.8" width="9.7" height="9.7"/><rect x="1090.2" y="750.2" width="9.7" height="9.7"/><rect x="995.1" y="711.4" width="9.7" height="9.7"/></g>
<g class="tl"><text transform="translate(662.5 818.2) scale(1 1.04)" text-anchor="middle">35</text><text transform="translate(767.2 818.2) scale(1 1.04)" text-anchor="middle">40</text><text transform="translate(872 818.2) scale(1 1.04)" text-anchor="middle">45</text><text transform="translate(976.7 818.2) scale(1 1.04)" text-anchor="middle">50</text><text transform="translate(1081.5 818.2) scale(1 1.04)" text-anchor="middle">55</text><text transform="translate(1186.2 818.2) scale(1 1.04)" text-anchor="middle">60</text><text transform="translate(656.7 801) scale(1 1.04)" text-anchor="end">20</text><text transform="translate(656.7 750) scale(1 1.04)" text-anchor="end">40</text><text transform="translate(656.7 699) scale(1 1.04)" text-anchor="end">60</text><text transform="translate(656.7 648) scale(1 1.04)" text-anchor="end">80</text><text transform="translate(656.7 596.9) scale(1 1.04)" text-anchor="end">100</text><text transform="translate(656.7 545.9) scale(1 1.04)" text-anchor="end">120</text><text transform="translate(656.7 494.9) scale(1 1.04)" text-anchor="end">140</text><text transform="translate(656.7 443.9) scale(1 1.04)" text-anchor="end">160</text></g>
<text class="lb" x="924.9" y="845.6" text-anchor="middle">r<tspan class="sub" dy="10.6">sd</tspan><tspan dx="1.8" dy="-10.6">(mm)</tspan></text>
<text class="lb" transform="translate(616.6 614.2) rotate(-90)" text-anchor="middle">Signal(a.u.)</text>
<text class="sl" transform="translate(687.7 776.7) scale(1 1.045)">S5</text>
</g>
<g class="p" id="p6">
<rect class="ax" x="1255.3" y="440.5" width="526.4" height="357.6" stroke-width="2.9"/>
<path class="tk" d="M1386.9 798.1v-6.6M1386.9 440.5v6.6M1518.5 798.1v-6.6M1518.5 440.5v6.6M1650.1 798.1v-6.6M1650.1 440.5v6.6M1255.3 747h6.6M1781.7 747h-6.6M1255.3 695.9h6.6M1781.7 695.9h-6.6M1255.3 644.8h6.6M1781.7 644.8h-6.6M1255.3 593.8h6.6M1781.7 593.8h-6.6M1255.3 542.7h6.6M1781.7 542.7h-6.6M1255.3 491.6h6.6M1781.7 491.6h-6.6" stroke-width="2.7"/>
<g class="b"><circle cx="1290.7" cy="480.7" r="7.7"/><circle cx="1304.3" cy="479" r="7.7"/><circle cx="1305.7" cy="499" r="7.7"/><circle cx="1315.7" cy="506" r="7.7"/><circle cx="1334" cy="490" r="7.7"/><circle cx="1333.3" cy="501" r="7.7"/><circle cx="1355" cy="529.3" r="7.7"/><circle cx="1362.3" cy="533.3" r="7.7"/><circle cx="1370" cy="538.3" r="7.7"/><circle cx="1385.7" cy="536.7" r="7.7"/><circle cx="1390" cy="523.3" r="7.7"/><circle cx="1388.3" cy="550.7" r="7.7"/><circle cx="1380" cy="552.3" r="7.7"/><circle cx="1385" cy="562.3" r="7.7"/><circle cx="1408.3" cy="542.3" r="7.7"/><circle cx="1417.3" cy="570" r="7.7"/><circle cx="1404" cy="575.7" r="7.7"/><circle cx="1420" cy="588.3" r="7.7"/><circle cx="1446.7" cy="579" r="7.7"/><circle cx="1445" cy="594" r="7.7"/><circle cx="1456.7" cy="596.7" r="7.7"/><circle cx="1440" cy="604" r="7.7"/><circle cx="1455.7" cy="614.3" r="7.7"/><circle cx="1482.3" cy="584" r="7.7"/><circle cx="1489" cy="596.7" r="7.7"/><circle cx="1504" cy="626.7" r="7.7"/><circle cx="1515.7" cy="623.3" r="7.7"/><circle cx="1484" cy="636.7" r="7.7"/><circle cx="1495" cy="638.3" r="7.7"/><circle cx="1501.7" cy="645" r="7.7"/><circle cx="1509.3" cy="650" r="7.7"/><circle cx="1518.3" cy="647.7" r="7.7"/><circle cx="1531.7" cy="667.7" r="7.7"/><circle cx="1538.3" cy="672.7" r="7.7"/><circle cx="1544.3" cy="662.3" r="7.7"/><circle cx="1561.7" cy="661" r="7.7"/><circle cx="1560" cy="683.3" r="7.7"/><circle cx="1565.7" cy="690" r="7.7"/><circle cx="1580" cy="682.3" r="7.7"/><circle cx="1575.7" cy="649" r="7.7"/><circle cx="1580" cy="645" r="7.7"/><circle cx="1591.7" cy="668.3" r="7.7"/><circle cx="1599.3" cy="709" r="7.7"/><circle cx="1606.7" cy="714" r="7.7"/><circle cx="1626.7" cy="696" r="7.7"/><circle cx="1624.3" cy="716.7" r="7.7"/><circle cx="1628.3" cy="718.3" r="7.7"/><circle cx="1640" cy="727.7" r="7.7"/><circle cx="1646.7" cy="724.3" r="7.7"/><circle cx="1655.7" cy="738.3" r="7.7"/><circle cx="1661.7" cy="739.3" r="7.7"/><circle cx="1669" cy="744" r="7.7"/><circle cx="1670.7" cy="735" r="7.7"/><circle cx="1667.7" cy="697.3" r="7.7"/><circle cx="1680" cy="700" r="7.7"/><circle cx="1673.3" cy="710.7" r="7.7"/><circle cx="1679" cy="727.7" r="7.7"/><circle cx="1691" cy="753.3" r="7.7"/><circle cx="1697.7" cy="729" r="7.7"/><circle cx="1705.7" cy="747.7" r="7.7"/><circle cx="1715" cy="759" r="7.7"/><circle cx="1730" cy="762.7" r="7.7"/><circle cx="1736.7" cy="755" r="7.7"/><circle cx="1743.3" cy="763.3" r="7.7"/><circle cx="1750" cy="762.3" r="7.7"/><circle cx="1756.7" cy="764.3" r="7.7"/><circle cx="1764.3" cy="739" r="7.7"/><circle cx="1765" cy="764.3" r="7.7"/><circle cx="1771.7" cy="765.7" r="7.7"/><circle cx="1780" cy="766" r="7.7"/><circle cx="1778.3" cy="757.7" r="7.7"/></g>
<g class="g"><rect x="1285.8" y="474.1" width="9.7" height="9.7"/><rect x="1299.5" y="487.5" width="9.7" height="9.7"/><rect x="1301.8" y="489.5" width="9.7" height="9.7"/><rect x="1310.8" y="498.5" width="9.7" height="9.7"/><rect x="1329.2" y="515.1" width="9.7" height="9.7"/><rect x="1350.2" y="534.5" width="9.7" height="9.7"/><rect x="1356.8" y="540.1" width="9.7" height="9.7"/><rect x="1360.2" y="542.8" width="9.7" height="9.7"/><rect x="1365.2" y="546.8" width="9.7" height="9.7"/><rect x="1373.5" y="552.8" width="9.7" height="9.7"/><rect x="1380.2" y="558.5" width="9.7" height="9.7"/><rect x="1383.5" y="560.8" width="9.7" height="9.7"/><rect x="1385.8" y="562.5" width="9.7" height="9.7"/><rect x="1399.2" y="572.8" width="9.7" height="9.7"/><rect x="1403.5" y="575.1" width="9.7" height="9.7"/><rect x="1412.5" y="582.8" width="9.7" height="9.7"/><rect x="1417.5" y="585.1" width="9.7" height="9.7"/><rect x="1435.2" y="599.1" width="9.7" height="9.7"/><rect x="1440.2" y="601.8" width="9.7" height="9.7"/><rect x="1443.5" y="603.5" width="9.7" height="9.7"/><rect x="1450.8" y="609.1" width="9.7" height="9.7"/><rect x="1452.5" y="610.1" width="9.7" height="9.7"/><rect x="1477.5" y="626.1" width="9.7" height="9.7"/><rect x="1480.2" y="627.8" width="9.7" height="9.7"/><rect x="1483.5" y="629.5" width="9.7" height="9.7"/><rect x="1486.8" y="631.8" width="9.7" height="9.7"/><rect x="1490.2" y="633.5" width="9.7" height="9.7"/><rect x="1493.5" y="635.8" width="9.7" height="9.7"/><rect x="1496.8" y="637.8" width="9.7" height="9.7"/><rect x="1500.2" y="639.5" width="9.7" height="9.7"/><rect x="1504.5" y="641.8" width="9.7" height="9.7"/><rect x="1510.8" y="645.1" width="9.7" height="9.7"/><rect x="1513.5" y="646.8" width="9.7" height="9.7"/><rect x="1527.5" y="654.5" width="9.7" height="9.7"/><rect x="1533.5" y="657.8" width="9.7" height="9.7"/><rect x="1539.5" y="660.8" width="9.7" height="9.7"/><rect x="1555.2" y="668.5" width="9.7" height="9.7"/><rect x="1560.8" y="671.1" width="9.7" height="9.7"/><rect x="1570.8" y="676.1" width="9.7" height="9.7"/><rect x="1575.2" y="677.8" width="9.7" height="9.7"/><rect x="1586.8" y="683.5" width="9.7" height="9.7"/><rect x="1594.5" y="686.8" width="9.7" height="9.7"/><rect x="1601.8" y="690.1" width="9.7" height="9.7"/><rect x="1618.5" y="697.8" width="9.7" height="9.7"/><rect x="1621.8" y="699.1" width="9.7" height="9.7"/><rect x="1625.2" y="700.8" width="9.7" height="9.7"/><rect x="1635.2" y="705.1" width="9.7" height="9.7"/><rect x="1641.8" y="707.8" width="9.7" height="9.7"/><rect x="1650.8" y="711.1" width="9.7" height="9.7"/><rect x="1656.8" y="713.5" width="9.7" height="9.7"/><rect x="1663.5" y="716.1" width="9.7" height="9.7"/><rect x="1668.5" y="717.8" width="9.7" height="9.7"/><rect x="1675.2" y="720.1" width="9.7" height="9.7"/><rect x="1686.2" y="724.1" width="9.7" height="9.7"/><rect x="1692.8" y="726.8" width="9.7" height="9.7"/><rect x="1701.8" y="730.1" width="9.7" height="9.7"/><rect x="1710.2" y="732.8" width="9.7" height="9.7"/><rect x="1725.2" y="737.8" width="9.7" height="9.7"/><rect x="1732.5" y="740.8" width="9.7" height="9.7"/><rect x="1738.5" y="742.5" width="9.7" height="9.7"/><rect x="1745.2" y="744.5" width="9.7" height="9.7"/><rect x="1748.5" y="745.8" width="9.7" height="9.7"/><rect x="1751.8" y="746.8" width="9.7" height="9.7"/><rect x="1755.8" y="747.8" width="9.7" height="9.7"/><rect x="1760.2" y="749.1" width="9.7" height="9.7"/><rect x="1766.8" y="751.1" width="9.7" height="9.7"/><rect x="1771.2" y="752.1" width="9.7" height="9.7"/><rect x="1775.2" y="752.8" width="9.7" height="9.7"/><rect x="1415.2" y="584.1" width="9.7" height="9.7"/><rect x="1665.8" y="716.9" width="9.7" height="9.7"/></g>
<g class="tl"><text transform="translate(1254.4 822.9) scale(1 1.04)" text-anchor="middle">55</text><text transform="translate(1386 822.9) scale(1 1.04)" text-anchor="middle">60</text><text transform="translate(1517.6 822.9) scale(1 1.04)" text-anchor="middle">65</text><text transform="translate(1649.2 822.9) scale(1 1.04)" text-anchor="middle">70</text><text transform="translate(1780.8 822.9) scale(1 1.04)" text-anchor="middle">75</text><text transform="translate(1249 805.3) scale(1 1.04)" text-anchor="end">40</text><text transform="translate(1249 754.2) scale(1 1.04)" text-anchor="end">60</text><text transform="translate(1249 703.1) scale(1 1.04)" text-anchor="end">80</text><text transform="translate(1249 652) scale(1 1.04)" text-anchor="end">100</text><text transform="translate(1249 601) scale(1 1.04)" text-anchor="end">120</text><text transform="translate(1249 549.9) scale(1 1.04)" text-anchor="end">140</text><text transform="translate(1249 498.8) scale(1 1.04)" text-anchor="end">160</text><text transform="translate(1249 447.7) scale(1 1.04)" text-anchor="end">180</text></g>
<text class="lb" style="font-size:22.0px" x="1518.5" y="849.9" text-anchor="middle">r<tspan class="sub" dy="10.6">sd</tspan><tspan dx="1.8" dy="-10.6">(mm)</tspan></text>
<text class="lb" style="font-size:22.0px" transform="translate(1208.9 618.3) rotate(-90)" text-anchor="middle">Signal(a.u.)</text>
<text class="sl" transform="translate(1271.1 784) scale(1 1.045)">S6</text>
</g>
<g class="p" id="p7">
<rect class="ax" x="64.4" y="863.3" width="527.3" height="357.8" stroke-width="3.2"/>
<path class="tk" d="M196.2 1221.1v-6.6M196.2 863.3v6.6M328.1 1221.1v-6.6M328.1 863.3v6.6M459.9 1221.1v-6.6M459.9 863.3v6.6M64.4 1170h6.6M591.7 1170h-6.6M64.4 1118.9h6.6M591.7 1118.9h-6.6M64.4 1067.8h6.6M591.7 1067.8h-6.6M64.4 1016.6h6.6M591.7 1016.6h-6.6M64.4 965.5h6.6M591.7 965.5h-6.6M64.4 914.4h6.6M591.7 914.4h-6.6" stroke-width="2.9"/>
<g class="b"><circle cx="70.7" cy="876.7" r="7.7"/><circle cx="72.3" cy="909.3" r="7.7"/><circle cx="77.3" cy="900" r="7.7"/><circle cx="90.7" cy="920" r="7.7"/><circle cx="90.7" cy="925.7" r="7.7"/><circle cx="98.3" cy="929.3" r="7.7"/><circle cx="114" cy="940.7" r="7.7"/><circle cx="118.3" cy="943.3" r="7.7"/><circle cx="130.7" cy="955" r="7.7"/><circle cx="144" cy="960" r="7.7"/><circle cx="150" cy="970" r="7.7"/><circle cx="155.7" cy="942.3" r="7.7"/><circle cx="160" cy="957.3" r="7.7"/><circle cx="161" cy="965" r="7.7"/><circle cx="171.7" cy="968.3" r="7.7"/><circle cx="177.3" cy="955" r="7.7"/><circle cx="173.3" cy="980" r="7.7"/><circle cx="186.7" cy="990" r="7.7"/><circle cx="189.3" cy="985" r="7.7"/><circle cx="194" cy="972.3" r="7.7"/><circle cx="193.3" cy="1003.3" r="7.7"/><circle cx="199.3" cy="1004.3" r="7.7"/><circle cx="222.3" cy="1025" r="7.7"/><circle cx="228.3" cy="1029.3" r="7.7"/><circle cx="247.3" cy="1015" r="7.7"/><circle cx="255.7" cy="1010" r="7.7"/><circle cx="242.3" cy="1036.7" r="7.7"/><circle cx="246.7" cy="1040.7" r="7.7"/><circle cx="263.3" cy="1033.3" r="7.7"/><circle cx="272.3" cy="1033.3" r="7.7"/><circle cx="271" cy="1052.7" r="7.7"/><circle cx="276.7" cy="1059.3" r="7.7"/><circle cx="286" cy="1027.7" r="7.7"/><circle cx="304" cy="1042.3" r="7.7"/><circle cx="300" cy="1061.7" r="7.7"/><circle cx="309.3" cy="1077.7" r="7.7"/><circle cx="316.7" cy="1083.3" r="7.7"/><circle cx="341.7" cy="1070" r="7.7"/><circle cx="345" cy="1079" r="7.7"/><circle cx="360" cy="1071" r="7.7"/><circle cx="353.3" cy="1103.3" r="7.7"/><circle cx="358.3" cy="1090" r="7.7"/><circle cx="360" cy="1106.7" r="7.7"/><circle cx="366.7" cy="1109.3" r="7.7"/><circle cx="376.7" cy="1091.7" r="7.7"/><circle cx="376.7" cy="1115" r="7.7"/><circle cx="382.3" cy="1113.3" r="7.7"/><circle cx="399" cy="1086.7" r="7.7"/><circle cx="398.3" cy="1121.7" r="7.7"/><circle cx="404" cy="1126" r="7.7"/><circle cx="416.7" cy="1100.7" r="7.7"/><circle cx="414.3" cy="1123.3" r="7.7"/><circle cx="424" cy="1133.3" r="7.7"/><circle cx="433.3" cy="1118.3" r="7.7"/><circle cx="433.3" cy="1134.3" r="7.7"/><circle cx="441" cy="1116.7" r="7.7"/><circle cx="441.7" cy="1141.7" r="7.7"/><circle cx="448.3" cy="1129.3" r="7.7"/><circle cx="459.3" cy="1131" r="7.7"/><circle cx="460" cy="1142.7" r="7.7"/><circle cx="468.3" cy="1122.3" r="7.7"/><circle cx="479" cy="1149" r="7.7"/><circle cx="485" cy="1136.7" r="7.7"/><circle cx="485" cy="1155.7" r="7.7"/><circle cx="491" cy="1157.3" r="7.7"/><circle cx="503.3" cy="1160.7" r="7.7"/><circle cx="506.7" cy="1162.3" r="7.7"/><circle cx="527.3" cy="1151" r="7.7"/><circle cx="526.7" cy="1166" r="7.7"/><circle cx="532.3" cy="1169" r="7.7"/><circle cx="544" cy="1154" r="7.7"/><circle cx="541.7" cy="1170.7" r="7.7"/><circle cx="560" cy="1164" r="7.7"/><circle cx="560" cy="1172.3" r="7.7"/><circle cx="566.7" cy="1175" r="7.7"/></g>
<g class="g"><rect x="65.8" y="873.5" width="9.7" height="9.7"/><rect x="69.2" y="876.1" width="9.7" height="9.7"/><rect x="74.2" y="880.8" width="9.7" height="9.7"/><rect x="82.5" y="891.8" width="9.7" height="9.7"/><rect x="85.8" y="895.1" width="9.7" height="9.7"/><rect x="93.5" y="902.5" width="9.7" height="9.7"/><rect x="109.2" y="919.1" width="9.7" height="9.7"/><rect x="113.5" y="923.5" width="9.7" height="9.7"/><rect x="116.8" y="926.1" width="9.7" height="9.7"/><rect x="126.8" y="935.1" width="9.7" height="9.7"/><rect x="139.2" y="948.5" width="9.7" height="9.7"/><rect x="145.2" y="953.5" width="9.7" height="9.7"/><rect x="150.8" y="958.5" width="9.7" height="9.7"/><rect x="155.2" y="961.8" width="9.7" height="9.7"/><rect x="166.8" y="972.5" width="9.7" height="9.7"/><rect x="169.5" y="975.1" width="9.7" height="9.7"/><rect x="180.8" y="984.5" width="9.7" height="9.7"/><rect x="184.5" y="987.5" width="9.7" height="9.7"/><rect x="189.2" y="990.8" width="9.7" height="9.7"/><rect x="194.5" y="994.1" width="9.7" height="9.7"/><rect x="216.8" y="1010.8" width="9.7" height="9.7"/><rect x="224.2" y="1015.8" width="9.7" height="9.7"/><rect x="235.8" y="1024.5" width="9.7" height="9.7"/><rect x="239.2" y="1026.8" width="9.7" height="9.7"/><rect x="242.5" y="1029.2" width="9.7" height="9.7"/><rect x="251.8" y="1035.2" width="9.7" height="9.7"/><rect x="258.5" y="1038.5" width="9.7" height="9.7"/><rect x="266.8" y="1044.2" width="9.7" height="9.7"/><rect x="271.8" y="1046.8" width="9.7" height="9.7"/><rect x="281.8" y="1053.5" width="9.7" height="9.7"/><rect x="295.1" y="1061.8" width="9.7" height="9.7"/><rect x="299.1" y="1064.2" width="9.7" height="9.7"/><rect x="304.5" y="1066.8" width="9.7" height="9.7"/><rect x="311.8" y="1070.2" width="9.7" height="9.7"/><rect x="336.8" y="1083.5" width="9.7" height="9.7"/><rect x="340.1" y="1085.2" width="9.7" height="9.7"/><rect x="348.5" y="1090.2" width="9.7" height="9.7"/><rect x="353.5" y="1092.5" width="9.7" height="9.7"/><rect x="356.8" y="1094.2" width="9.7" height="9.7"/><rect x="361.8" y="1096.2" width="9.7" height="9.7"/><rect x="366.8" y="1098.5" width="9.7" height="9.7"/><rect x="371.8" y="1100.8" width="9.7" height="9.7"/><rect x="377.5" y="1102.5" width="9.7" height="9.7"/><rect x="393.5" y="1109.5" width="9.7" height="9.7"/><rect x="398.5" y="1111.2" width="9.7" height="9.7"/><rect x="409.5" y="1116.2" width="9.7" height="9.7"/><rect x="414.1" y="1118.5" width="9.7" height="9.7"/><rect x="419.1" y="1120.2" width="9.7" height="9.7"/><rect x="428.5" y="1123.5" width="9.7" height="9.7"/><rect x="436.8" y="1126.8" width="9.7" height="9.7"/><rect x="443.5" y="1129.5" width="9.7" height="9.7"/><rect x="454.5" y="1132.8" width="9.7" height="9.7"/><rect x="463.5" y="1136.2" width="9.7" height="9.7"/><rect x="474.1" y="1139.5" width="9.7" height="9.7"/><rect x="480.1" y="1141.2" width="9.7" height="9.7"/><rect x="486.1" y="1142.8" width="9.7" height="9.7"/><rect x="498.5" y="1146.8" width="9.7" height="9.7"/><rect x="501.8" y="1147.8" width="9.7" height="9.7"/><rect x="521.8" y="1154.2" width="9.7" height="9.7"/><rect x="527.5" y="1155.8" width="9.7" height="9.7"/><rect x="539.1" y="1159.2" width="9.7" height="9.7"/><rect x="548.5" y="1161.2" width="9.7" height="9.7"/><rect x="555.1" y="1163.5" width="9.7" height="9.7"/><rect x="561.8" y="1165.2" width="9.7" height="9.7"/><rect x="172.5" y="977.6" width="9.7" height="9.7"/><rect x="411.8" y="1117.3" width="9.7" height="9.7"/><rect x="536.8" y="1158.5" width="9.7" height="9.7"/></g>
<g class="tl"><text transform="translate(63.9 1245.5) scale(1 1.04)" text-anchor="middle">50</text><text transform="translate(195.7 1245.5) scale(1 1.04)" text-anchor="middle">55</text><text transform="translate(327.6 1245.5) scale(1 1.04)" text-anchor="middle">60</text><text transform="translate(459.4 1245.5) scale(1 1.04)" text-anchor="middle">65</text><text transform="translate(591.2 1245.5) scale(1 1.04)" text-anchor="middle">70</text><text transform="translate(58.1 1228.3) scale(1 1.04)" text-anchor="end">20</text><text transform="translate(58.1 1177.2) scale(1 1.04)" text-anchor="end">40</text><text transform="translate(58.1 1126.1) scale(1 1.04)" text-anchor="end">60</text><text transform="translate(58.1 1075) scale(1 1.04)" text-anchor="end">80</text><text transform="translate(58.1 1023.8) scale(1 1.04)" text-anchor="end">100</text><text transform="translate(58.1 972.7) scale(1 1.04)" text-anchor="end">120</text><text transform="translate(58.1 921.6) scale(1 1.04)" text-anchor="end">140</text><text transform="translate(58.1 870.5) scale(1 1.04)" text-anchor="end">160</text></g>
<text class="lb" x="328.1" y="1272.9" text-anchor="middle">r<tspan class="sub" dy="10.6">sd</tspan><tspan dx="1.8" dy="-10.6">(mm)</tspan></text>
<text class="lb" transform="translate(18 1041.2) rotate(-90)" text-anchor="middle">Signal(a.u.)</text>
<text class="sl" transform="translate(78.4 1208) scale(1 1.045)">S7</text>
</g>
<g class="p" id="p8">
<rect class="ax" x="661.7" y="864.8" width="525.6" height="355.9" stroke-width="2.8"/>
<path class="tk" d="M766.8 1220.7v-6.6M766.8 864.8v6.6M871.9 1220.7v-6.6M871.9 864.8v6.6M977.1 1220.7v-6.6M977.1 864.8v6.6M1082.2 1220.7v-6.6M1082.2 864.8v6.6M661.7 1176.2h6.6M1187.3 1176.2h-6.6M661.7 1131.7h6.6M1187.3 1131.7h-6.6M661.7 1087.2h6.6M1187.3 1087.2h-6.6M661.7 1042.8h6.6M1187.3 1042.8h-6.6M661.7 998.3h6.6M1187.3 998.3h-6.6M661.7 953.8h6.6M1187.3 953.8h-6.6M661.7 909.3h6.6M1187.3 909.3h-6.6" stroke-width="2.7"/>
<g class="b"><circle cx="725" cy="898.3" r="7.7"/><circle cx="738.3" cy="935" r="7.7"/><circle cx="742.3" cy="939" r="7.7"/><circle cx="753.3" cy="924" r="7.7"/><circle cx="748.3" cy="933.3" r="7.7"/><circle cx="754.3" cy="946.7" r="7.7"/><circle cx="761" cy="956.7" r="7.7"/><circle cx="771.7" cy="961" r="7.7"/><circle cx="776.7" cy="973.3" r="7.7"/><circle cx="795.7" cy="976" r="7.7"/><circle cx="808.3" cy="982.3" r="7.7"/><circle cx="801" cy="995" r="7.7"/><circle cx="806.7" cy="994" r="7.7"/><circle cx="810" cy="1013.3" r="7.7"/><circle cx="820" cy="1023.3" r="7.7"/><circle cx="828.3" cy="1027.7" r="7.7"/><circle cx="846" cy="1021" r="7.7"/><circle cx="842.7" cy="1035" r="7.7"/><circle cx="848.3" cy="1046.7" r="7.7"/><circle cx="856.7" cy="1052.3" r="7.7"/><circle cx="866" cy="1052.3" r="7.7"/><circle cx="873.3" cy="1052.7" r="7.7"/><circle cx="868.3" cy="1065" r="7.7"/><circle cx="877.7" cy="1076" r="7.7"/><circle cx="886.7" cy="1083.3" r="7.7"/><circle cx="895.7" cy="1066" r="7.7"/><circle cx="894.3" cy="1080" r="7.7"/><circle cx="900" cy="1090.7" r="7.7"/><circle cx="906.7" cy="1098.3" r="7.7"/><circle cx="915.7" cy="1098.3" r="7.7"/><circle cx="941" cy="1097.3" r="7.7"/><circle cx="938.3" cy="1116.7" r="7.7"/><circle cx="943.3" cy="1111" r="7.7"/><circle cx="946.7" cy="1126.7" r="7.7"/><circle cx="955" cy="1114" r="7.7"/><circle cx="955" cy="1132.7" r="7.7"/><circle cx="962.7" cy="1117.7" r="7.7"/><circle cx="961.7" cy="1136.7" r="7.7"/><circle cx="966.7" cy="1139" r="7.7"/><circle cx="973.3" cy="1141.7" r="7.7"/><circle cx="980" cy="1145.7" r="7.7"/><circle cx="986.7" cy="1131" r="7.7"/><circle cx="995" cy="1153.3" r="7.7"/><circle cx="1006.7" cy="1150" r="7.7"/><circle cx="1006.7" cy="1160.7" r="7.7"/><circle cx="1020.7" cy="1154.3" r="7.7"/><circle cx="1034.3" cy="1170" r="7.7"/><circle cx="1041" cy="1161.7" r="7.7"/><circle cx="1042.3" cy="1175" r="7.7"/><circle cx="1050" cy="1177.7" r="7.7"/><circle cx="1060" cy="1162.3" r="7.7"/><circle cx="1060" cy="1181.7" r="7.7"/><circle cx="1066.7" cy="1184" r="7.7"/><circle cx="1080" cy="1187.3" r="7.7"/><circle cx="1086.7" cy="1189.3" r="7.7"/><circle cx="1101" cy="1178.3" r="7.7"/><circle cx="1100" cy="1191.7" r="7.7"/><circle cx="1106.7" cy="1193.3" r="7.7"/><circle cx="1114.3" cy="1195" r="7.7"/><circle cx="1126.7" cy="1196.7" r="7.7"/><circle cx="1135" cy="1199.3" r="7.7"/><circle cx="1140.7" cy="1200" r="7.7"/><circle cx="1150" cy="1196.7" r="7.7"/><circle cx="1157.7" cy="1190.7" r="7.7"/></g>
<g class="g"><rect x="720.1" y="893.5" width="9.7" height="9.7"/><rect x="733.5" y="915.8" width="9.7" height="9.7"/><rect x="737.5" y="922.5" width="9.7" height="9.7"/><rect x="741.1" y="927.8" width="9.7" height="9.7"/><rect x="744.1" y="931.1" width="9.7" height="9.7"/><rect x="746.8" y="934.5" width="9.7" height="9.7"/><rect x="749.5" y="937.8" width="9.7" height="9.7"/><rect x="756.8" y="948.5" width="9.7" height="9.7"/><rect x="766.8" y="961.8" width="9.7" height="9.7"/><rect x="769.5" y="964.5" width="9.7" height="9.7"/><rect x="771.8" y="967.8" width="9.7" height="9.7"/><rect x="790.8" y="991.1" width="9.7" height="9.7"/><rect x="796.1" y="997.5" width="9.7" height="9.7"/><rect x="801.8" y="1004.1" width="9.7" height="9.7"/><rect x="805.1" y="1007.5" width="9.7" height="9.7"/><rect x="808.5" y="1010.8" width="9.7" height="9.7"/><rect x="815.1" y="1018.5" width="9.7" height="9.7"/><rect x="822.5" y="1025.2" width="9.7" height="9.7"/><rect x="837.8" y="1040.8" width="9.7" height="9.7"/><rect x="841.1" y="1043.5" width="9.7" height="9.7"/><rect x="844.1" y="1046.2" width="9.7" height="9.7"/><rect x="848.5" y="1050.2" width="9.7" height="9.7"/><rect x="851.8" y="1052.5" width="9.7" height="9.7"/><rect x="855.1" y="1055.2" width="9.7" height="9.7"/><rect x="861.1" y="1060.8" width="9.7" height="9.7"/><rect x="865.1" y="1063.5" width="9.7" height="9.7"/><rect x="868.5" y="1065.8" width="9.7" height="9.7"/><rect x="872.8" y="1069.5" width="9.7" height="9.7"/><rect x="881.1" y="1076.2" width="9.7" height="9.7"/><rect x="885.8" y="1079.2" width="9.7" height="9.7"/><rect x="890.1" y="1081.8" width="9.7" height="9.7"/><rect x="895.1" y="1085.8" width="9.7" height="9.7"/><rect x="901.8" y="1090.8" width="9.7" height="9.7"/><rect x="910.8" y="1096.8" width="9.7" height="9.7"/><rect x="933.5" y="1111.8" width="9.7" height="9.7"/><rect x="936.1" y="1113.5" width="9.7" height="9.7"/><rect x="939.5" y="1115.2" width="9.7" height="9.7"/><rect x="943.5" y="1117.8" width="9.7" height="9.7"/><rect x="946.8" y="1120.2" width="9.7" height="9.7"/><rect x="950.1" y="1121.8" width="9.7" height="9.7"/><rect x="953.5" y="1124.2" width="9.7" height="9.7"/><rect x="957.8" y="1126.2" width="9.7" height="9.7"/><rect x="961.8" y="1128.5" width="9.7" height="9.7"/><rect x="968.5" y="1131.8" width="9.7" height="9.7"/><rect x="975.1" y="1135.2" width="9.7" height="9.7"/><rect x="981.8" y="1138.5" width="9.7" height="9.7"/><rect x="991.8" y="1142.8" width="9.7" height="9.7"/><rect x="1001.8" y="1146.8" width="9.7" height="9.7"/><rect x="1015.8" y="1151.8" width="9.7" height="9.7"/><rect x="1029.5" y="1157.5" width="9.7" height="9.7"/><rect x="1033.5" y="1159.2" width="9.7" height="9.7"/><rect x="1037.5" y="1160.8" width="9.7" height="9.7"/><rect x="1045.2" y="1163.5" width="9.7" height="9.7"/><rect x="1055.2" y="1166.8" width="9.7" height="9.7"/><rect x="1061.8" y="1169.2" width="9.7" height="9.7"/><rect x="1068.5" y="1171.2" width="9.7" height="9.7"/><rect x="1075.2" y="1173.5" width="9.7" height="9.7"/><rect x="1081.8" y="1175.2" width="9.7" height="9.7"/><rect x="1088.5" y="1177.5" width="9.7" height="9.7"/><rect x="1095.2" y="1179.5" width="9.7" height="9.7"/><rect x="1101.8" y="1181.8" width="9.7" height="9.7"/><rect x="1109.5" y="1183.5" width="9.7" height="9.7"/><rect x="1116.8" y="1185.2" width="9.7" height="9.7"/><rect x="1121.8" y="1186.8" width="9.7" height="9.7"/><rect x="1130.2" y="1188.5" width="9.7" height="9.7"/><rect x="1135.8" y="1190.2" width="9.7" height="9.7"/><rect x="1145.2" y="1192.8" width="9.7" height="9.7"/><rect x="1153.5" y="1195.2" width="9.7" height="9.7"/></g>
<g class="tl"><text transform="translate(661.7 1245.4) scale(1 1.04)" text-anchor="middle">35</text><text transform="translate(766.8 1245.4) scale(1 1.04)" text-anchor="middle">40</text><text transform="translate(871.9 1245.4) scale(1 1.04)" text-anchor="middle">45</text><text transform="translate(977.1 1245.4) scale(1 1.04)" text-anchor="middle">50</text><text transform="translate(1082.2 1245.4) scale(1 1.04)" text-anchor="middle">55</text><text transform="translate(1187.3 1245.4) scale(1 1.04)" text-anchor="middle">60</text><text transform="translate(655.4 1227.9) scale(1 1.04)" text-anchor="end">20</text><text transform="translate(655.4 1183.4) scale(1 1.04)" text-anchor="end">40</text><text transform="translate(655.4 1138.9) scale(1 1.04)" text-anchor="end">60</text><text transform="translate(655.4 1094.4) scale(1 1.04)" text-anchor="end">80</text><text transform="translate(655.4 1050) scale(1 1.04)" text-anchor="end">100</text><text transform="translate(655.4 1005.5) scale(1 1.04)" text-anchor="end">120</text><text transform="translate(655.4 961) scale(1 1.04)" text-anchor="end">140</text><text transform="translate(655.4 916.5) scale(1 1.04)" text-anchor="end">160</text><text transform="translate(655.4 872) scale(1 1.04)" text-anchor="end">180</text></g>
<text class="lb" x="924.5" y="1271.7" text-anchor="middle">r<tspan class="sub" dy="10.6">sd</tspan><tspan dx="1.8" dy="-10.6">(mm)</tspan></text>
<text class="lb" transform="translate(615.3 1041.8) rotate(-90)" text-anchor="middle">Signal(a.u.)</text>
<text class="sl" transform="translate(679.4 1203) scale(1 1.045)">S8</text>
</g>
<g class="p" id="p9">
<rect class="ax" x="1257.7" y="865.1" width="532.3" height="358.2" stroke-width="2.9"/>
<path class="tk" d="M1390.8 1223.3v-6.6M1390.8 865.1v6.6M1523.8 1223.3v-6.6M1523.8 865.1v6.6M1656.9 1223.3v-6.6M1656.9 865.1v6.6M1257.7 1163.6h6.6M1790 1163.6h-6.6M1257.7 1103.9h6.6M1790 1103.9h-6.6M1257.7 1044.2h6.6M1790 1044.2h-6.6M1257.7 984.5h6.6M1790 984.5h-6.6M1257.7 924.8h6.6M1790 924.8h-6.6" stroke-width="2.7"/>
<g class="b"><circle cx="1314" cy="877.3" r="7.7"/><circle cx="1313.3" cy="889.3" r="7.7"/><circle cx="1344.3" cy="932.7" r="7.7"/><circle cx="1349" cy="937.3" r="7.7"/><circle cx="1353.3" cy="939.3" r="7.7"/><circle cx="1352.3" cy="921.7" r="7.7"/><circle cx="1364.3" cy="951" r="7.7"/><circle cx="1371.7" cy="930" r="7.7"/><circle cx="1371.7" cy="952.3" r="7.7"/><circle cx="1389.3" cy="941.7" r="7.7"/><circle cx="1390" cy="974" r="7.7"/><circle cx="1399" cy="975" r="7.7"/><circle cx="1412.3" cy="992.7" r="7.7"/><circle cx="1428.3" cy="986" r="7.7"/><circle cx="1427.7" cy="1005.7" r="7.7"/><circle cx="1442.3" cy="1000" r="7.7"/><circle cx="1440" cy="1009.3" r="7.7"/><circle cx="1451" cy="1019.3" r="7.7"/><circle cx="1465.7" cy="1005" r="7.7"/><circle cx="1471" cy="1013.3" r="7.7"/><circle cx="1473.3" cy="1046.7" r="7.7"/><circle cx="1478.3" cy="1050" r="7.7"/><circle cx="1482.3" cy="1053.3" r="7.7"/><circle cx="1488.3" cy="1042.3" r="7.7"/><circle cx="1498.3" cy="1042.7" r="7.7"/><circle cx="1495.7" cy="1065" r="7.7"/><circle cx="1501.7" cy="1063.3" r="7.7"/><circle cx="1520" cy="1081" r="7.7"/><circle cx="1530" cy="1087.3" r="7.7"/><circle cx="1540" cy="1068.3" r="7.7"/><circle cx="1544.3" cy="1082.3" r="7.7"/><circle cx="1559" cy="1081.7" r="7.7"/><circle cx="1554" cy="1104" r="7.7"/><circle cx="1563.3" cy="1104" r="7.7"/><circle cx="1575.7" cy="1095.7" r="7.7"/><circle cx="1593.3" cy="1130" r="7.7"/><circle cx="1597.7" cy="1133.3" r="7.7"/><circle cx="1610" cy="1125" r="7.7"/><circle cx="1609" cy="1141.7" r="7.7"/><circle cx="1615" cy="1143.3" r="7.7"/><circle cx="1626.7" cy="1151.7" r="7.7"/><circle cx="1633.3" cy="1150" r="7.7"/><circle cx="1638.3" cy="1146.7" r="7.7"/><circle cx="1641.7" cy="1129.3" r="7.7"/><circle cx="1650" cy="1161.7" r="7.7"/><circle cx="1655.7" cy="1162.3" r="7.7"/><circle cx="1658.3" cy="1146.7" r="7.7"/><circle cx="1665" cy="1164" r="7.7"/><circle cx="1681.7" cy="1170.7" r="7.7"/><circle cx="1691" cy="1171.7" r="7.7"/><circle cx="1709" cy="1174" r="7.7"/><circle cx="1726.7" cy="1171.7" r="7.7"/><circle cx="1733.3" cy="1176" r="7.7"/><circle cx="1746.7" cy="1171.7" r="7.7"/><circle cx="1751.7" cy="1178.3" r="7.7"/><circle cx="1761" cy="1177.3" r="7.7"/><circle cx="1766.7" cy="1181.7" r="7.7"/><circle cx="1775" cy="1182.7" r="7.7"/><circle cx="1783.3" cy="1182.3" r="7.7"/><circle cx="1786.7" cy="1184" r="7.7"/></g>
<g class="g"><rect x="1309.2" y="873.5" width="9.7" height="9.7"/><rect x="1339.5" y="910.1" width="9.7" height="9.7"/><rect x="1344.2" y="915.1" width="9.7" height="9.7"/><rect x="1347.5" y="919.1" width="9.7" height="9.7"/><rect x="1360.2" y="932.5" width="9.7" height="9.7"/><rect x="1366.8" y="938.5" width="9.7" height="9.7"/><rect x="1384.5" y="958.5" width="9.7" height="9.7"/><rect x="1394.2" y="967.8" width="9.7" height="9.7"/><rect x="1407.5" y="980.1" width="9.7" height="9.7"/><rect x="1423.5" y="994.1" width="9.7" height="9.7"/><rect x="1435.2" y="1004.5" width="9.7" height="9.7"/><rect x="1437.5" y="1006.8" width="9.7" height="9.7"/><rect x="1446.2" y="1014.5" width="9.7" height="9.7"/><rect x="1460.8" y="1026.2" width="9.7" height="9.7"/><rect x="1466.2" y="1030.8" width="9.7" height="9.7"/><rect x="1468.5" y="1032.8" width="9.7" height="9.7"/><rect x="1471.8" y="1035.2" width="9.7" height="9.7"/><rect x="1475.2" y="1037.5" width="9.7" height="9.7"/><rect x="1478.5" y="1039.5" width="9.7" height="9.7"/><rect x="1483.5" y="1042.8" width="9.7" height="9.7"/><rect x="1491.8" y="1049.5" width="9.7" height="9.7"/><rect x="1496.8" y="1052.8" width="9.7" height="9.7"/><rect x="1515.2" y="1065.8" width="9.7" height="9.7"/><rect x="1525.2" y="1071.8" width="9.7" height="9.7"/><rect x="1535.2" y="1079.5" width="9.7" height="9.7"/><rect x="1539.5" y="1081.8" width="9.7" height="9.7"/><rect x="1549.2" y="1089.5" width="9.7" height="9.7"/><rect x="1554.2" y="1091.8" width="9.7" height="9.7"/><rect x="1558.5" y="1094.2" width="9.7" height="9.7"/><rect x="1570.2" y="1101.2" width="9.7" height="9.7"/><rect x="1588.5" y="1112.8" width="9.7" height="9.7"/><rect x="1592.8" y="1114.5" width="9.7" height="9.7"/><rect x="1605.2" y="1121.2" width="9.7" height="9.7"/><rect x="1610.2" y="1123.5" width="9.7" height="9.7"/><rect x="1621.8" y="1130.2" width="9.7" height="9.7"/><rect x="1628.5" y="1132.8" width="9.7" height="9.7"/><rect x="1635.2" y="1136.2" width="9.7" height="9.7"/><rect x="1638.5" y="1137.8" width="9.7" height="9.7"/><rect x="1646.8" y="1141.2" width="9.7" height="9.7"/><rect x="1653.5" y="1144.5" width="9.7" height="9.7"/><rect x="1656.8" y="1146.2" width="9.7" height="9.7"/><rect x="1660.8" y="1147.8" width="9.7" height="9.7"/><rect x="1676.8" y="1155.8" width="9.7" height="9.7"/><rect x="1686.2" y="1159.5" width="9.7" height="9.7"/><rect x="1704.2" y="1167.5" width="9.7" height="9.7"/><rect x="1715.2" y="1173.5" width="9.7" height="9.7"/><rect x="1721.8" y="1175.2" width="9.7" height="9.7"/><rect x="1728.5" y="1177.5" width="9.7" height="9.7"/><rect x="1736.8" y="1181.8" width="9.7" height="9.7"/><rect x="1741.8" y="1182.8" width="9.7" height="9.7"/><rect x="1746.8" y="1184.2" width="9.7" height="9.7"/><rect x="1755.2" y="1187.8" width="9.7" height="9.7"/><rect x="1761.8" y="1190.2" width="9.7" height="9.7"/><rect x="1770.2" y="1192.8" width="9.7" height="9.7"/><rect x="1775.2" y="1194.5" width="9.7" height="9.7"/><rect x="1778.5" y="1195.8" width="9.7" height="9.7"/><rect x="1781.8" y="1196.2" width="9.7" height="9.7"/><rect x="1650.8" y="1143.2" width="9.7" height="9.7"/></g>
<g class="tl"><text transform="translate(1257.7 1247.9) scale(1 1.04)" text-anchor="middle">55</text><text transform="translate(1390.8 1247.9) scale(1 1.04)" text-anchor="middle">60</text><text transform="translate(1523.8 1247.9) scale(1 1.04)" text-anchor="middle">65</text><text transform="translate(1656.9 1247.9) scale(1 1.04)" text-anchor="middle">70</text><text transform="translate(1790 1247.9) scale(1 1.04)" text-anchor="middle">75</text><text transform="translate(1251.4 1230.5) scale(1 1.04)" text-anchor="end">40</text><text transform="translate(1251.4 1170.8) scale(1 1.04)" text-anchor="end">60</text><text transform="translate(1251.4 1111.1) scale(1 1.04)" text-anchor="end">80</text><text transform="translate(1251.4 1051.4) scale(1 1.04)" text-anchor="end">100</text><text transform="translate(1251.4 991.7) scale(1 1.04)" text-anchor="end">120</text><text transform="translate(1251.4 932) scale(1 1.04)" text-anchor="end">140</text><text transform="translate(1251.4 872.3) scale(1 1.04)" text-anchor="end">160</text></g>
<text class="lb" style="font-size:22.0px" x="1523.8" y="1275.1" text-anchor="middle">r<tspan class="sub" dy="10.6">sd</tspan><tspan dx="1.8" dy="-10.6">(mm)</tspan></text>
<text class="lb" style="font-size:22.0px" transform="translate(1211.3 1043.2) rotate(-90)" text-anchor="middle">Signal(a.u.)</text>
<text class="sl" transform="translate(1273.4 1211.7) scale(1 1.045)">S9</text>
</g>
<g class="p" id="p10">
<rect class="ax" x="62.3" y="1294.8" width="527.7" height="357.6" stroke-width="3.2"/>
<path class="tk" d="M167.8 1652.4v-6.6M167.8 1294.8v6.6M273.4 1652.4v-6.6M273.4 1294.8v6.6M378.9 1652.4v-6.6M378.9 1294.8v6.6M484.5 1652.4v-6.6M484.5 1294.8v6.6M62.3 1601.3h6.6M590 1601.3h-6.6M62.3 1550.2h6.6M590 1550.2h-6.6M62.3 1499.1h6.6M590 1499.1h-6.6M62.3 1448.1h6.6M590 1448.1h-6.6M62.3 1397h6.6M590 1397h-6.6M62.3 1345.9h6.6M590 1345.9h-6.6" stroke-width="2.9"/>
<g class="b"><circle cx="68.3" cy="1297.3" r="7.7"/><circle cx="74" cy="1302.3" r="7.7"/><circle cx="86.7" cy="1310.7" r="7.7"/><circle cx="113.3" cy="1334.3" r="7.7"/><circle cx="118.3" cy="1330" r="7.7"/><circle cx="118.3" cy="1351" r="7.7"/><circle cx="129.3" cy="1345" r="7.7"/><circle cx="131.7" cy="1356.7" r="7.7"/><circle cx="137.3" cy="1356.7" r="7.7"/><circle cx="149.3" cy="1352.7" r="7.7"/><circle cx="146.7" cy="1373.3" r="7.7"/><circle cx="135" cy="1368.3" r="7.7"/><circle cx="148.3" cy="1385" r="7.7"/><circle cx="160.7" cy="1384.3" r="7.7"/><circle cx="173.3" cy="1401.7" r="7.7"/><circle cx="176.7" cy="1404.3" r="7.7"/><circle cx="184" cy="1415" r="7.7"/><circle cx="195.7" cy="1414" r="7.7"/><circle cx="210" cy="1434" r="7.7"/><circle cx="216.7" cy="1425.7" r="7.7"/><circle cx="216.7" cy="1434" r="7.7"/><circle cx="221.7" cy="1447.3" r="7.7"/><circle cx="233.3" cy="1451.7" r="7.7"/><circle cx="235" cy="1431" r="7.7"/><circle cx="236.7" cy="1461.7" r="7.7"/><circle cx="248.3" cy="1471.7" r="7.7"/><circle cx="254" cy="1469.3" r="7.7"/><circle cx="267.7" cy="1484" r="7.7"/><circle cx="276.7" cy="1485" r="7.7"/><circle cx="286.7" cy="1489" r="7.7"/><circle cx="297.3" cy="1487.3" r="7.7"/><circle cx="295" cy="1500" r="7.7"/><circle cx="305" cy="1507.7" r="7.7"/><circle cx="320" cy="1522.3" r="7.7"/><circle cx="322.7" cy="1495" r="7.7"/><circle cx="330" cy="1535" r="7.7"/><circle cx="338.3" cy="1542.3" r="7.7"/><circle cx="351.7" cy="1550" r="7.7"/><circle cx="358.3" cy="1554.3" r="7.7"/><circle cx="365" cy="1538.3" r="7.7"/><circle cx="375" cy="1564.3" r="7.7"/><circle cx="381" cy="1540" r="7.7"/><circle cx="383.3" cy="1569" r="7.7"/><circle cx="395.7" cy="1571.7" r="7.7"/><circle cx="405.7" cy="1580" r="7.7"/><circle cx="414" cy="1547.7" r="7.7"/><circle cx="416.7" cy="1587.3" r="7.7"/><circle cx="434.3" cy="1599" r="7.7"/><circle cx="441.7" cy="1604.3" r="7.7"/><circle cx="445" cy="1580.7" r="7.7"/><circle cx="446.7" cy="1597.3" r="7.7"/><circle cx="455.7" cy="1608.3" r="7.7"/><circle cx="461" cy="1611.7" r="7.7"/><circle cx="465" cy="1605.7" r="7.7"/><circle cx="468.3" cy="1585" r="7.7"/><circle cx="479" cy="1616.7" r="7.7"/><circle cx="488.3" cy="1617.7" r="7.7"/><circle cx="485" cy="1621.7" r="7.7"/><circle cx="503.3" cy="1624.3" r="7.7"/><circle cx="506.7" cy="1593.3" r="7.7"/><circle cx="507.7" cy="1626.7" r="7.7"/><circle cx="516" cy="1627.7" r="7.7"/><circle cx="526.7" cy="1627.7" r="7.7"/><circle cx="529" cy="1615" r="7.7"/><circle cx="540" cy="1630" r="7.7"/><circle cx="548.3" cy="1631.7" r="7.7"/><circle cx="557.7" cy="1618.3" r="7.7"/><circle cx="558.3" cy="1632.7" r="7.7"/><circle cx="565" cy="1634" r="7.7"/><circle cx="580.3" cy="1632.7" r="7.7"/><circle cx="587.3" cy="1632.7" r="7.7"/></g>
<g class="g"><rect x="60.8" y="1292.8" width="9.7" height="9.7"/><rect x="65.2" y="1296.8" width="9.7" height="9.7"/><rect x="69.5" y="1301.8" width="9.7" height="9.7"/><rect x="80.2" y="1316.8" width="9.7" height="9.7"/><rect x="81.8" y="1318.5" width="9.7" height="9.7"/><rect x="107.5" y="1350.2" width="9.7" height="9.7"/><rect x="111.8" y="1355.2" width="9.7" height="9.7"/><rect x="114.2" y="1358.5" width="9.7" height="9.7"/><rect x="117.5" y="1361.8" width="9.7" height="9.7"/><rect x="121.2" y="1365.8" width="9.7" height="9.7"/><rect x="124.5" y="1368.5" width="9.7" height="9.7"/><rect x="126.8" y="1370.8" width="9.7" height="9.7"/><rect x="132.5" y="1377.8" width="9.7" height="9.7"/><rect x="140.8" y="1386.8" width="9.7" height="9.7"/><rect x="144.5" y="1390.2" width="9.7" height="9.7"/><rect x="147.5" y="1393.5" width="9.7" height="9.7"/><rect x="155.8" y="1400.2" width="9.7" height="9.7"/><rect x="168.5" y="1412.8" width="9.7" height="9.7"/><rect x="171.8" y="1415.2" width="9.7" height="9.7"/><rect x="177.8" y="1420.8" width="9.7" height="9.7"/><rect x="190.8" y="1431.8" width="9.7" height="9.7"/><rect x="205.2" y="1444.2" width="9.7" height="9.7"/><rect x="209.2" y="1447.5" width="9.7" height="9.7"/><rect x="212.5" y="1450.2" width="9.7" height="9.7"/><rect x="216.8" y="1453.5" width="9.7" height="9.7"/><rect x="221.8" y="1456.8" width="9.7" height="9.7"/><rect x="226.8" y="1461.2" width="9.7" height="9.7"/><rect x="231.8" y="1464.2" width="9.7" height="9.7"/><rect x="243.5" y="1473.5" width="9.7" height="9.7"/><rect x="249.2" y="1477.5" width="9.7" height="9.7"/><rect x="262.8" y="1486.8" width="9.7" height="9.7"/><rect x="268.5" y="1491.2" width="9.7" height="9.7"/><rect x="272.5" y="1493.5" width="9.7" height="9.7"/><rect x="276.8" y="1496.8" width="9.7" height="9.7"/><rect x="281.8" y="1500.2" width="9.7" height="9.7"/><rect x="290.1" y="1505.8" width="9.7" height="9.7"/><rect x="300.1" y="1511.2" width="9.7" height="9.7"/><rect x="306.8" y="1515.8" width="9.7" height="9.7"/><rect x="315.1" y="1520.2" width="9.7" height="9.7"/><rect x="318.5" y="1521.8" width="9.7" height="9.7"/><rect x="325.1" y="1525.8" width="9.7" height="9.7"/><rect x="330.1" y="1529.2" width="9.7" height="9.7"/><rect x="335.1" y="1531.8" width="9.7" height="9.7"/><rect x="341.8" y="1535.8" width="9.7" height="9.7"/><rect x="346.8" y="1538.5" width="9.7" height="9.7"/><rect x="353.5" y="1541.8" width="9.7" height="9.7"/><rect x="360.1" y="1545.2" width="9.7" height="9.7"/><rect x="370.1" y="1550.8" width="9.7" height="9.7"/><rect x="376.8" y="1553.5" width="9.7" height="9.7"/><rect x="390.8" y="1561.2" width="9.7" height="9.7"/><rect x="400.8" y="1565.2" width="9.7" height="9.7"/><rect x="405.8" y="1566.8" width="9.7" height="9.7"/><rect x="411.8" y="1569.2" width="9.7" height="9.7"/><rect x="429.5" y="1577.5" width="9.7" height="9.7"/><rect x="436.8" y="1580.2" width="9.7" height="9.7"/><rect x="441.8" y="1582.5" width="9.7" height="9.7"/><rect x="446.8" y="1584.5" width="9.7" height="9.7"/><rect x="451.8" y="1586.2" width="9.7" height="9.7"/><rect x="456.8" y="1588.5" width="9.7" height="9.7"/><rect x="463.5" y="1590.8" width="9.7" height="9.7"/><rect x="474.1" y="1594.5" width="9.7" height="9.7"/><rect x="483.5" y="1598.5" width="9.7" height="9.7"/><rect x="498.5" y="1603.5" width="9.7" height="9.7"/><rect x="502.8" y="1605.2" width="9.7" height="9.7"/><rect x="511.1" y="1607.8" width="9.7" height="9.7"/><rect x="521.8" y="1611.8" width="9.7" height="9.7"/><rect x="524.1" y="1612.5" width="9.7" height="9.7"/><rect x="535.1" y="1616.2" width="9.7" height="9.7"/><rect x="540.8" y="1617.8" width="9.7" height="9.7"/><rect x="545.1" y="1619.2" width="9.7" height="9.7"/><rect x="550.1" y="1620.8" width="9.7" height="9.7"/><rect x="555.1" y="1621.8" width="9.7" height="9.7"/><rect x="560.1" y="1622.8" width="9.7" height="9.7"/><rect x="575.1" y="1627.5" width="9.7" height="9.7"/><rect x="579.8" y="1628.2" width="9.7" height="9.7"/><rect x="582.5" y="1628.8" width="9.7" height="9.7"/></g>
<g class="tl"><text transform="translate(62.3 1677) scale(1 1.04)" text-anchor="middle">50</text><text transform="translate(167.8 1677) scale(1 1.04)" text-anchor="middle">55</text><text transform="translate(273.4 1677) scale(1 1.04)" text-anchor="middle">60</text><text transform="translate(378.9 1677) scale(1 1.04)" text-anchor="middle">65</text><text transform="translate(484.5 1677) scale(1 1.04)" text-anchor="middle">70</text><text transform="translate(590 1677) scale(1 1.04)" text-anchor="middle">75</text><text transform="translate(56 1659.6) scale(1 1.04)" text-anchor="end">40</text><text transform="translate(56 1608.5) scale(1 1.04)" text-anchor="end">60</text><text transform="translate(56 1557.4) scale(1 1.04)" text-anchor="end">80</text><text transform="translate(56 1506.3) scale(1 1.04)" text-anchor="end">100</text><text transform="translate(56 1455.3) scale(1 1.04)" text-anchor="end">120</text><text transform="translate(56 1404.2) scale(1 1.04)" text-anchor="end">140</text><text transform="translate(56 1353.1) scale(1 1.04)" text-anchor="end">160</text><text transform="translate(56 1302) scale(1 1.04)" text-anchor="end">180</text></g>
<text class="lb" x="327.5" y="1704.2" text-anchor="middle">r<tspan class="sub" dy="10.6">sd</tspan><tspan dx="1.8" dy="-10.6">(mm)</tspan></text>
<text class="lb" transform="translate(15.9 1472.6) rotate(-90)" text-anchor="middle">Signal(a.u.)</text>
<text class="sl" transform="translate(74.4 1640.6) scale(1 1.045)">S10</text>
</g>
<g class="p" id="p11">
<rect class="ax" x="660.7" y="1296.2" width="525" height="359" stroke-width="3.2"/>
<path class="tk" d="M765.7 1655.2v-6.6M765.7 1296.2v6.6M870.7 1655.2v-6.6M870.7 1296.2v6.6M975.7 1655.2v-6.6M975.7 1296.2v6.6M1080.7 1655.2v-6.6M1080.7 1296.2v6.6M660.7 1603.9h6.6M1185.7 1603.9h-6.6M660.7 1552.6h6.6M1185.7 1552.6h-6.6M660.7 1501.3h6.6M1185.7 1501.3h-6.6M660.7 1450.1h6.6M1185.7 1450.1h-6.6M660.7 1398.8h6.6M1185.7 1398.8h-6.6M660.7 1347.5h6.6M1185.7 1347.5h-6.6" stroke-width="2.9"/>
<g class="b"><circle cx="708.3" cy="1296" r="7.7"/><circle cx="723.3" cy="1309.3" r="7.7"/><circle cx="729" cy="1347.7" r="7.7"/><circle cx="745.7" cy="1359" r="7.7"/><circle cx="753.3" cy="1354.3" r="7.7"/><circle cx="748.3" cy="1367.3" r="7.7"/><circle cx="755" cy="1366" r="7.7"/><circle cx="753.3" cy="1378.3" r="7.7"/><circle cx="762.3" cy="1386" r="7.7"/><circle cx="775.7" cy="1388.3" r="7.7"/><circle cx="778.3" cy="1410" r="7.7"/><circle cx="789" cy="1420" r="7.7"/><circle cx="809" cy="1419.3" r="7.7"/><circle cx="806" cy="1426" r="7.7"/><circle cx="825.7" cy="1458.3" r="7.7"/><circle cx="825" cy="1464" r="7.7"/><circle cx="835.7" cy="1461.7" r="7.7"/><circle cx="836.7" cy="1475" r="7.7"/><circle cx="847.7" cy="1468.3" r="7.7"/><circle cx="850" cy="1485" r="7.7"/><circle cx="857.7" cy="1492.3" r="7.7"/><circle cx="865.7" cy="1479" r="7.7"/><circle cx="868.3" cy="1507.3" r="7.7"/><circle cx="876.7" cy="1506.7" r="7.7"/><circle cx="888.3" cy="1524.3" r="7.7"/><circle cx="896.7" cy="1516.7" r="7.7"/><circle cx="898.3" cy="1526.7" r="7.7"/><circle cx="905" cy="1530" r="7.7"/><circle cx="920.7" cy="1533.3" r="7.7"/><circle cx="921.7" cy="1551.7" r="7.7"/><circle cx="942.3" cy="1557.3" r="7.7"/><circle cx="959" cy="1548.3" r="7.7"/><circle cx="955" cy="1571.7" r="7.7"/><circle cx="961.7" cy="1576.7" r="7.7"/><circle cx="968.3" cy="1581" r="7.7"/><circle cx="976.7" cy="1583.3" r="7.7"/><circle cx="983.3" cy="1580" r="7.7"/><circle cx="985" cy="1586.7" r="7.7"/><circle cx="990" cy="1593.3" r="7.7"/><circle cx="1005" cy="1595.7" r="7.7"/><circle cx="1009.3" cy="1586.7" r="7.7"/><circle cx="1013.3" cy="1603.3" r="7.7"/><circle cx="1020.7" cy="1607.7" r="7.7"/><circle cx="1039.3" cy="1610" r="7.7"/><circle cx="1050" cy="1613.3" r="7.7"/><circle cx="1054" cy="1597.3" r="7.7"/><circle cx="1059" cy="1621" r="7.7"/><circle cx="1065" cy="1622.3" r="7.7"/><circle cx="1066.7" cy="1613.3" r="7.7"/><circle cx="1072.3" cy="1625" r="7.7"/><circle cx="1081" cy="1626.7" r="7.7"/><circle cx="1092.3" cy="1630" r="7.7"/><circle cx="1100" cy="1619.3" r="7.7"/></g>
<g class="g"><rect x="703.5" y="1291.2" width="9.7" height="9.7"/><rect x="717.8" y="1317.8" width="9.7" height="9.7"/><rect x="724.5" y="1327.8" width="9.7" height="9.7"/><rect x="740.8" y="1355.2" width="9.7" height="9.7"/><rect x="744.1" y="1360.2" width="9.7" height="9.7"/><rect x="749.1" y="1368.5" width="9.7" height="9.7"/><rect x="757.5" y="1380.2" width="9.7" height="9.7"/><rect x="769.5" y="1396.8" width="9.7" height="9.7"/><rect x="773.5" y="1402.5" width="9.7" height="9.7"/><rect x="784.1" y="1415.2" width="9.7" height="9.7"/><rect x="801.8" y="1436.8" width="9.7" height="9.7"/><rect x="803.5" y="1438.5" width="9.7" height="9.7"/><rect x="820.1" y="1456.8" width="9.7" height="9.7"/><rect x="830.8" y="1468.5" width="9.7" height="9.7"/><rect x="842.8" y="1480.2" width="9.7" height="9.7"/><rect x="846.8" y="1483.5" width="9.7" height="9.7"/><rect x="852.8" y="1489.5" width="9.7" height="9.7"/><rect x="860.8" y="1496.8" width="9.7" height="9.7"/><rect x="863.5" y="1499.2" width="9.7" height="9.7"/><rect x="871.8" y="1505.8" width="9.7" height="9.7"/><rect x="883.5" y="1516.8" width="9.7" height="9.7"/><rect x="891.8" y="1522.5" width="9.7" height="9.7"/><rect x="896.8" y="1525.8" width="9.7" height="9.7"/><rect x="900.1" y="1527.5" width="9.7" height="9.7"/><rect x="916.8" y="1539.5" width="9.7" height="9.7"/><rect x="937.5" y="1552.8" width="9.7" height="9.7"/><rect x="950.1" y="1561.2" width="9.7" height="9.7"/><rect x="953.5" y="1563.5" width="9.7" height="9.7"/><rect x="956.8" y="1565.2" width="9.7" height="9.7"/><rect x="960.8" y="1567.5" width="9.7" height="9.7"/><rect x="965.1" y="1570.2" width="9.7" height="9.7"/><rect x="971.8" y="1573.5" width="9.7" height="9.7"/><rect x="978.5" y="1576.8" width="9.7" height="9.7"/><rect x="981.8" y="1577.8" width="9.7" height="9.7"/><rect x="985.8" y="1579.5" width="9.7" height="9.7"/><rect x="1000.1" y="1586.2" width="9.7" height="9.7"/><rect x="1004.5" y="1588.5" width="9.7" height="9.7"/><rect x="1008.5" y="1590.2" width="9.7" height="9.7"/><rect x="1016.8" y="1593.5" width="9.7" height="9.7"/><rect x="1034.5" y="1601.2" width="9.7" height="9.7"/><rect x="1045.2" y="1605.2" width="9.7" height="9.7"/><rect x="1049.2" y="1606.2" width="9.7" height="9.7"/><rect x="1054.2" y="1608.5" width="9.7" height="9.7"/><rect x="1060.2" y="1610.8" width="9.7" height="9.7"/><rect x="1063.5" y="1611.8" width="9.7" height="9.7"/><rect x="1068.5" y="1613.5" width="9.7" height="9.7"/><rect x="1076.2" y="1616.2" width="9.7" height="9.7"/><rect x="1078.5" y="1616.8" width="9.7" height="9.7"/><rect x="1087.5" y="1620.2" width="9.7" height="9.7"/><rect x="1096.2" y="1622.5" width="9.7" height="9.7"/></g>
<g class="tl"><text transform="translate(660.7 1679.6) scale(1 1.04)" text-anchor="middle">40</text><text transform="translate(765.7 1679.6) scale(1 1.04)" text-anchor="middle">45</text><text transform="translate(870.7 1679.6) scale(1 1.04)" text-anchor="middle">50</text><text transform="translate(975.7 1679.6) scale(1 1.04)" text-anchor="middle">55</text><text transform="translate(1080.7 1679.6) scale(1 1.04)" text-anchor="middle">60</text><text transform="translate(1185.7 1679.6) scale(1 1.04)" text-anchor="middle">65</text><text transform="translate(654.4 1662.4) scale(1 1.04)" text-anchor="end">20</text><text transform="translate(654.4 1611.1) scale(1 1.04)" text-anchor="end">40</text><text transform="translate(654.4 1559.8) scale(1 1.04)" text-anchor="end">60</text><text transform="translate(654.4 1508.5) scale(1 1.04)" text-anchor="end">80</text><text transform="translate(654.4 1457.3) scale(1 1.04)" text-anchor="end">100</text><text transform="translate(654.4 1406) scale(1 1.04)" text-anchor="end">120</text><text transform="translate(654.4 1354.7) scale(1 1.04)" text-anchor="end">140</text><text transform="translate(654.4 1303.4) scale(1 1.04)" text-anchor="end">160</text></g>
<text class="lb" x="924.4" y="1707" text-anchor="middle">r<tspan class="sub" dy="10.6">sd</tspan><tspan dx="1.8" dy="-10.6">(mm)</tspan></text>
<text class="lb" transform="translate(614.3 1474.7) rotate(-90)" text-anchor="middle">Signal(a.u.)</text>
<text class="sl" transform="translate(675.4 1639) scale(1 1.045)">S11</text>
</g>
<g class="p" id="p12">
<rect class="ax" x="1257.7" y="1290.9" width="532.3" height="363.4" stroke-width="2.9"/>
<path class="tk" d="M1333.7 1654.3v-6.6M1333.7 1290.9v6.6M1409.8 1654.3v-6.6M1409.8 1290.9v6.6M1485.8 1654.3v-6.6M1485.8 1290.9v6.6M1561.9 1654.3v-6.6M1561.9 1290.9v6.6M1637.9 1654.3v-6.6M1637.9 1290.9v6.6M1714 1654.3v-6.6M1714 1290.9v6.6M1257.7 1581.6h6.6M1790 1581.6h-6.6M1257.7 1508.9h6.6M1790 1508.9h-6.6M1257.7 1436.3h6.6M1790 1436.3h-6.6M1257.7 1363.6h6.6M1790 1363.6h-6.6" stroke-width="2.7"/>
<g class="b"><circle cx="1302.7" cy="1305.7" r="7.7"/><circle cx="1305.7" cy="1302.3" r="7.7"/><circle cx="1329" cy="1297.3" r="7.7"/><circle cx="1320.7" cy="1320" r="7.7"/><circle cx="1366.7" cy="1355.7" r="7.7"/><circle cx="1371" cy="1346.7" r="7.7"/><circle cx="1388.3" cy="1376" r="7.7"/><circle cx="1399" cy="1389.3" r="7.7"/><circle cx="1402.7" cy="1391.7" r="7.7"/><circle cx="1414.3" cy="1399" r="7.7"/><circle cx="1421" cy="1405" r="7.7"/><circle cx="1444.3" cy="1412.7" r="7.7"/><circle cx="1442.3" cy="1420" r="7.7"/><circle cx="1454" cy="1390" r="7.7"/><circle cx="1454" cy="1431" r="7.7"/><circle cx="1468.3" cy="1448.3" r="7.7"/><circle cx="1479" cy="1427.3" r="7.7"/><circle cx="1486" cy="1456" r="7.7"/><circle cx="1501.7" cy="1471.7" r="7.7"/><circle cx="1533.3" cy="1479.3" r="7.7"/><circle cx="1544.3" cy="1499.3" r="7.7"/><circle cx="1564" cy="1520" r="7.7"/><circle cx="1586.7" cy="1482.7" r="7.7"/><circle cx="1595.7" cy="1510" r="7.7"/><circle cx="1588.3" cy="1539" r="7.7"/><circle cx="1593.3" cy="1540" r="7.7"/><circle cx="1601.7" cy="1543.3" r="7.7"/><circle cx="1608.3" cy="1548.3" r="7.7"/><circle cx="1616.7" cy="1544" r="7.7"/><circle cx="1628.3" cy="1556.7" r="7.7"/><circle cx="1639.3" cy="1562.3" r="7.7"/><circle cx="1669.3" cy="1573.3" r="7.7"/><circle cx="1684" cy="1577.3" r="7.7"/><circle cx="1699" cy="1575" r="7.7"/><circle cx="1721.7" cy="1570.7" r="7.7"/><circle cx="1726.7" cy="1560" r="7.7"/><circle cx="1744" cy="1581" r="7.7"/><circle cx="1742.7" cy="1596" r="7.7"/><circle cx="1780" cy="1605.7" r="7.7"/><circle cx="1781.7" cy="1608.3" r="7.7"/></g>
<g class="g"><rect x="1296.8" y="1293.5" width="9.7" height="9.7"/><rect x="1300.2" y="1295.2" width="9.7" height="9.7"/><rect x="1315.8" y="1312.5" width="9.7" height="9.7"/><rect x="1324.2" y="1319.2" width="9.7" height="9.7"/><rect x="1361.8" y="1354.2" width="9.7" height="9.7"/><rect x="1366.2" y="1357.8" width="9.7" height="9.7"/><rect x="1383.5" y="1372.5" width="9.7" height="9.7"/><rect x="1394.2" y="1382.8" width="9.7" height="9.7"/><rect x="1397.8" y="1384.2" width="9.7" height="9.7"/><rect x="1409.5" y="1393.5" width="9.7" height="9.7"/><rect x="1415.2" y="1397.8" width="9.7" height="9.7"/><rect x="1437.5" y="1416.2" width="9.7" height="9.7"/><rect x="1449.2" y="1425.2" width="9.7" height="9.7"/><rect x="1463.5" y="1435.2" width="9.7" height="9.7"/><rect x="1474.2" y="1442.5" width="9.7" height="9.7"/><rect x="1481.8" y="1448.5" width="9.7" height="9.7"/><rect x="1497.5" y="1458.5" width="9.7" height="9.7"/><rect x="1527.8" y="1479.5" width="9.7" height="9.7"/><rect x="1540.2" y="1486.8" width="9.7" height="9.7"/><rect x="1559.5" y="1499.2" width="9.7" height="9.7"/><rect x="1581.8" y="1512.8" width="9.7" height="9.7"/><rect x="1585.2" y="1514.5" width="9.7" height="9.7"/><rect x="1588.5" y="1516.2" width="9.7" height="9.7"/><rect x="1591.8" y="1517.8" width="9.7" height="9.7"/><rect x="1596.8" y="1520.2" width="9.7" height="9.7"/><rect x="1601.8" y="1522.8" width="9.7" height="9.7"/><rect x="1606.8" y="1525.2" width="9.7" height="9.7"/><rect x="1611.8" y="1527.8" width="9.7" height="9.7"/><rect x="1623.5" y="1536.2" width="9.7" height="9.7"/><rect x="1626.8" y="1537.5" width="9.7" height="9.7"/><rect x="1631.8" y="1539.5" width="9.7" height="9.7"/><rect x="1635.2" y="1541.2" width="9.7" height="9.7"/><rect x="1664.5" y="1556.8" width="9.7" height="9.7"/><rect x="1679.2" y="1564.5" width="9.7" height="9.7"/><rect x="1694.2" y="1571.8" width="9.7" height="9.7"/><rect x="1716.8" y="1582.8" width="9.7" height="9.7"/><rect x="1720.2" y="1583.5" width="9.7" height="9.7"/><rect x="1723.5" y="1584.5" width="9.7" height="9.7"/><rect x="1736.8" y="1591.8" width="9.7" height="9.7"/><rect x="1740.2" y="1592.5" width="9.7" height="9.7"/><rect x="1775.2" y="1607.5" width="9.7" height="9.7"/><rect x="1776.8" y="1607.8" width="9.7" height="9.7"/></g>
<g class="tl"><text transform="translate(1257.7 1678.4) scale(1 1.04)" text-anchor="middle">56</text><text transform="translate(1333.7 1678.4) scale(1 1.04)" text-anchor="middle">58</text><text transform="translate(1409.8 1678.4) scale(1 1.04)" text-anchor="middle">60</text><text transform="translate(1485.8 1678.4) scale(1 1.04)" text-anchor="middle">62</text><text transform="translate(1561.9 1678.4) scale(1 1.04)" text-anchor="middle">64</text><text transform="translate(1637.9 1678.4) scale(1 1.04)" text-anchor="middle">66</text><text transform="translate(1714 1678.4) scale(1 1.04)" text-anchor="middle">68</text><text transform="translate(1790 1678.4) scale(1 1.04)" text-anchor="middle">70</text><text transform="translate(1251.4 1661.5) scale(1 1.04)" text-anchor="end">60</text><text transform="translate(1251.4 1588.8) scale(1 1.04)" text-anchor="end">80</text><text transform="translate(1251.4 1516.1) scale(1 1.04)" text-anchor="end">100</text><text transform="translate(1251.4 1443.5) scale(1 1.04)" text-anchor="end">120</text><text transform="translate(1251.4 1370.8) scale(1 1.04)" text-anchor="end">140</text><text transform="translate(1251.4 1298.1) scale(1 1.04)" text-anchor="end">160</text></g>
<text class="lb" style="font-size:22.0px" x="1523.8" y="1706.1" text-anchor="middle">r<tspan class="sub" dy="10.6">sd</tspan><tspan dx="1.8" dy="-10.6">(mm)</tspan></text>
<text class="lb" style="font-size:22.0px" transform="translate(1211.3 1471.6) rotate(-90)" text-anchor="middle">Signal(a.u.)</text>
<text class="sl" transform="translate(1266.1 1640.9) scale(1 1.045)">S12</text>
</g>
<g id="legend">
<rect x="208.3" y="7.2" width="370.7" height="58.3" fill="#fff" stroke="#262626" stroke-width="3"/>
<circle cx="223.6" cy="19.2" r="7.7" fill="#00f"/>
<rect x="218.4" y="41.9" width="10.2" height="10.2" fill="none" stroke="#0f0" stroke-width="3.1"/>
<text class="lg" x="238.4" y="25.6">Background data</text>
<text class="lg" x="238.3" y="52.5">DF max(data)*normalized(exp(-ueff*r<tspan class="lsub" dx="-3.6" dy="8.6">sd</tspan><tspan dx="2.1" dy="-8.6">)/r</tspan><tspan class="lsub" dx="-0.6" dy="-7.8">2</tspan><tspan class="lsub" dx="-8.4" dy="16.4">sd</tspan><tspan dx="2.4" dy="-8.6">)</tspan></text>
</g>
</svg>
</body>
</html>
